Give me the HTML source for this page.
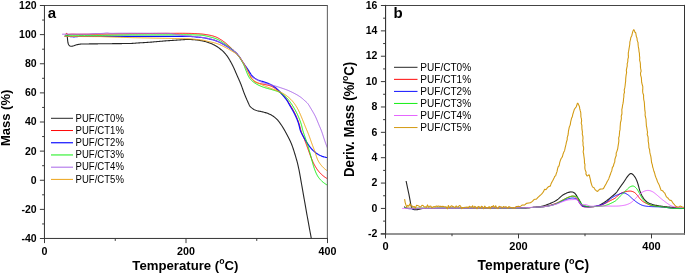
<!DOCTYPE html>
<html lang="en"><head><meta charset="utf-8"><title>TGA and DTG curves</title>
<style>html,body{margin:0;padding:0;background:#fff;}body{width:685px;height:273px;overflow:hidden;}svg{display:block;}text{font-family:'Liberation Sans', Arial, Helvetica, sans-serif;fill:#000;}.tk{font-size:10.5px;font-weight:bold;}.ax{stroke:#222;fill:none;}.c{fill:none;stroke-linejoin:round;stroke-linecap:butt;}</style></head><body>
<svg width="685" height="273" viewBox="0 0 685 273">
<rect x="0" y="0" width="685" height="273" fill="#fff"/>
<g id="plot-a">
<clipPath id="clip-a"><rect x="44.50" y="5.50" width="283.00" height="233.00"/></clipPath>
<g clip-path="url(#clip-a)">
<path class="c" stroke="#262626" stroke-width="1.1" d="M67.00 34.80 L67.13 35.53 L67.24 36.27 L67.32 37.01 L67.40 37.76 L67.47 38.51 L67.53 39.26 L67.60 40.02 L67.68 40.77 L67.78 41.53 L67.90 42.29 L68.07 43.03 L68.28 43.74 L68.56 44.42 L68.95 45.08 L69.47 45.68 L70.09 46.03 L70.81 46.18 L71.58 46.22 L72.34 46.16 L73.07 46.01 L73.79 45.78 L74.50 45.52 L75.21 45.25 L75.92 45.02 L76.64 44.83 L77.37 44.66 L78.11 44.50 L78.85 44.35 L79.59 44.23 L80.34 44.13 L81.09 44.06 L81.84 44.01 L82.58 43.98 L83.33 43.96 L84.08 43.95 L84.83 43.94 L85.58 43.94 L86.33 43.94 L87.08 43.94 L87.83 43.93 L88.58 43.93 L89.33 43.92 L90.08 43.92 L90.83 43.91 L91.58 43.90 L92.33 43.89 L93.08 43.88 L93.83 43.87 L94.58 43.86 L95.33 43.85 L96.08 43.84 L96.83 43.83 L97.58 43.83 L98.33 43.82 L99.08 43.81 L99.83 43.80 L100.58 43.79 L101.33 43.79 L102.08 43.78 L102.83 43.77 L103.58 43.76 L104.33 43.76 L105.08 43.75 L105.83 43.74 L106.58 43.73 L107.33 43.73 L108.08 43.72 L108.83 43.71 L109.58 43.70 L110.33 43.70 L111.08 43.69 L111.83 43.68 L112.58 43.67 L113.33 43.67 L114.08 43.66 L114.83 43.65 L115.58 43.65 L116.33 43.64 L117.08 43.63 L117.83 43.62 L118.58 43.61 L119.33 43.61 L120.08 43.60 L120.83 43.59 L121.58 43.58 L122.33 43.57 L123.08 43.57 L123.83 43.56 L124.58 43.56 L125.33 43.55 L126.08 43.55 L126.83 43.55 L127.58 43.54 L128.33 43.53 L129.08 43.52 L129.83 43.50 L130.58 43.48 L131.33 43.45 L132.08 43.40 L132.83 43.36 L133.58 43.30 L134.32 43.24 L135.07 43.19 L135.82 43.13 L136.57 43.07 L137.32 43.02 L138.07 42.97 L138.81 42.92 L139.56 42.87 L140.31 42.82 L141.06 42.78 L141.81 42.73 L142.56 42.68 L143.30 42.64 L144.05 42.59 L144.80 42.54 L145.55 42.50 L146.30 42.45 L147.05 42.40 L147.80 42.35 L148.54 42.30 L149.29 42.25 L150.04 42.20 L150.79 42.14 L151.54 42.08 L152.28 42.02 L153.03 41.95 L153.78 41.89 L154.52 41.82 L155.27 41.75 L156.02 41.69 L156.77 41.63 L157.51 41.56 L158.26 41.50 L159.01 41.44 L159.76 41.37 L160.50 41.31 L161.25 41.25 L162.00 41.18 L162.74 41.12 L163.49 41.05 L164.24 40.99 L164.99 40.92 L165.73 40.86 L166.48 40.80 L167.23 40.74 L167.98 40.68 L168.72 40.63 L169.47 40.58 L170.22 40.53 L170.97 40.48 L171.72 40.44 L172.47 40.39 L173.22 40.35 L173.96 40.30 L174.71 40.25 L175.46 40.21 L176.21 40.16 L176.96 40.11 L177.71 40.07 L178.46 40.02 L179.20 39.97 L179.95 39.92 L180.70 39.87 L181.45 39.81 L182.20 39.75 L182.94 39.69 L183.69 39.63 L184.44 39.58 L185.19 39.54 L185.94 39.51 L186.69 39.50 L187.44 39.49 L188.19 39.49 L188.94 39.50 L189.69 39.52 L190.44 39.54 L191.19 39.57 L191.94 39.61 L192.69 39.65 L193.44 39.69 L194.19 39.74 L194.93 39.79 L195.68 39.86 L196.43 39.93 L197.17 40.02 L197.92 40.11 L198.66 40.22 L199.40 40.34 L200.14 40.46 L200.88 40.59 L201.62 40.73 L202.36 40.87 L203.09 41.02 L203.82 41.19 L204.55 41.36 L205.28 41.55 L206.00 41.75 L206.72 41.96 L207.44 42.18 L208.15 42.42 L208.86 42.66 L209.57 42.92 L210.27 43.19 L210.96 43.48 L211.65 43.77 L212.34 44.08 L213.01 44.40 L213.69 44.73 L214.36 45.07 L215.02 45.43 L215.67 45.80 L216.31 46.18 L216.95 46.58 L217.57 46.99 L218.19 47.42 L218.80 47.86 L219.41 48.31 L220.00 48.76 L220.59 49.23 L221.17 49.70 L221.74 50.19 L222.31 50.68 L222.87 51.19 L223.41 51.71 L223.94 52.24 L224.45 52.78 L224.96 53.34 L225.45 53.91 L225.92 54.49 L226.39 55.08 L226.84 55.68 L227.27 56.28 L227.70 56.90 L228.12 57.53 L228.52 58.16 L228.92 58.80 L229.31 59.44 L229.69 60.09 L230.06 60.74 L230.43 61.39 L230.80 62.04 L231.16 62.70 L231.52 63.36 L231.87 64.02 L232.21 64.69 L232.55 65.36 L232.89 66.03 L233.22 66.70 L233.55 67.38 L233.87 68.06 L234.18 68.74 L234.49 69.42 L234.79 70.11 L235.09 70.80 L235.38 71.49 L235.67 72.18 L235.96 72.87 L236.25 73.56 L236.55 74.25 L236.85 74.94 L237.16 75.62 L237.46 76.31 L237.77 76.99 L238.08 77.68 L238.38 78.36 L238.69 79.05 L238.99 79.73 L239.30 80.42 L239.60 81.11 L239.89 81.80 L240.18 82.49 L240.47 83.18 L240.75 83.87 L241.02 84.57 L241.29 85.27 L241.55 85.98 L241.81 86.68 L242.06 87.39 L242.31 88.10 L242.56 88.80 L242.81 89.51 L243.06 90.22 L243.31 90.93 L243.57 91.63 L243.83 92.33 L244.10 93.03 L244.37 93.73 L244.65 94.43 L244.93 95.12 L245.21 95.81 L245.50 96.50 L245.79 97.19 L246.08 97.88 L246.38 98.57 L246.67 99.26 L246.98 99.95 L247.28 100.63 L247.59 101.32 L247.89 102.00 L248.20 102.69 L248.51 103.37 L248.83 104.06 L249.14 104.75 L249.47 105.44 L249.84 106.08 L250.29 106.66 L250.81 107.19 L251.39 107.68 L252.00 108.14 L252.62 108.58 L253.24 109.01 L253.88 109.42 L254.53 109.78 L255.20 110.09 L255.89 110.34 L256.60 110.57 L257.31 110.77 L258.04 110.95 L258.78 111.11 L259.52 111.26 L260.27 111.40 L261.02 111.55 L261.76 111.71 L262.49 111.87 L263.23 112.06 L263.96 112.24 L264.69 112.44 L265.42 112.65 L266.14 112.87 L266.86 113.10 L267.57 113.35 L268.27 113.61 L268.96 113.89 L269.64 114.19 L270.31 114.50 L270.97 114.84 L271.63 115.21 L272.27 115.60 L272.91 116.01 L273.54 116.44 L274.15 116.89 L274.75 117.36 L275.33 117.84 L275.89 118.33 L276.44 118.84 L276.96 119.36 L277.47 119.90 L277.97 120.46 L278.45 121.03 L278.92 121.62 L279.38 122.22 L279.83 122.83 L280.27 123.45 L280.70 124.07 L281.13 124.69 L281.54 125.32 L281.95 125.94 L282.36 126.57 L282.75 127.21 L283.14 127.85 L283.53 128.49 L283.91 129.14 L284.29 129.79 L284.66 130.44 L285.03 131.10 L285.39 131.75 L285.75 132.41 L286.11 133.07 L286.47 133.73 L286.83 134.39 L287.18 135.05 L287.53 135.71 L287.88 136.38 L288.23 137.05 L288.58 137.71 L288.92 138.38 L289.25 139.06 L289.58 139.73 L289.91 140.41 L290.22 141.09 L290.53 141.77 L290.84 142.46 L291.13 143.14 L291.41 143.83 L291.69 144.53 L291.96 145.23 L292.22 145.93 L292.48 146.63 L292.73 147.34 L292.98 148.05 L293.22 148.76 L293.45 149.47 L293.68 150.19 L293.91 150.90 L294.14 151.62 L294.36 152.34 L294.58 153.06 L294.80 153.77 L295.02 154.49 L295.23 155.21 L295.45 155.93 L295.67 156.65 L295.88 157.37 L296.09 158.09 L296.30 158.81 L296.51 159.53 L296.71 160.25 L296.91 160.97 L297.11 161.70 L297.30 162.42 L297.49 163.15 L297.67 163.88 L297.85 164.60 L298.02 165.33 L298.18 166.06 L298.34 166.80 L298.50 167.53 L298.66 168.26 L298.81 169.00 L298.96 169.73 L299.11 170.47 L299.25 171.20 L299.39 171.94 L299.53 172.68 L299.67 173.42 L299.81 174.15 L299.94 174.89 L300.08 175.63 L300.21 176.37 L300.35 177.11 L300.48 177.85 L300.61 178.58 L300.73 179.32 L300.86 180.06 L300.99 180.80 L301.12 181.54 L301.25 182.28 L301.38 183.02 L301.51 183.76 L301.64 184.50 L301.76 185.23 L301.89 185.97 L302.02 186.71 L302.15 187.45 L302.28 188.19 L302.41 188.93 L302.54 189.67 L302.67 190.41 L302.80 191.14 L302.93 191.88 L303.06 192.62 L303.19 193.36 L303.32 194.10 L303.45 194.84 L303.58 195.58 L303.71 196.32 L303.84 197.05 L303.97 197.79 L304.10 198.53 L304.23 199.27 L304.36 200.01 L304.49 200.75 L304.62 201.49 L304.75 202.22 L304.88 202.96 L305.01 203.70 L305.14 204.44 L305.27 205.18 L305.40 205.92 L305.53 206.66 L305.66 207.39 L305.79 208.13 L305.92 208.87 L306.05 209.61 L306.18 210.35 L306.31 211.09 L306.44 211.83 L306.57 212.57 L306.70 213.30 L306.83 214.04 L306.96 214.78 L307.09 215.52 L307.23 216.26 L307.36 216.99 L307.50 217.73 L307.63 218.47 L307.77 219.21 L307.90 219.95 L308.04 220.68 L308.18 221.42 L308.31 222.16 L308.45 222.90 L308.58 223.63 L308.72 224.37 L308.85 225.11 L308.99 225.85 L309.12 226.58 L309.25 227.32 L309.39 228.06 L309.52 228.80 L309.66 229.54 L309.79 230.27 L309.93 231.01 L310.06 231.75 L310.20 232.49 L310.34 233.22 L310.47 233.96 L310.61 234.70 L310.75 235.44 L310.89 236.17 L311.02 236.91 L311.15 237.65 L311.28 238.39 L311.41 239.13 L311.53 239.87 L311.65 240.61 L311.76 241.35 L311.87 242.09 L311.98 242.83 L312.00 243.00"/>
<path class="c" stroke="#ff0808" stroke-width="1.0" d="M66.00 34.40 L66.33 33.32 L66.68 33.27 L67.09 33.98 L67.65 34.34 L68.37 34.43 L69.17 34.39 L69.99 34.30 L70.76 34.23 L71.53 34.19 L72.29 34.18 L73.03 34.19 L73.77 34.20 L74.51 34.23 L75.25 34.26 L75.99 34.28 L76.73 34.30 L77.47 34.30 L78.22 34.30 L78.97 34.30 L79.73 34.29 L80.48 34.28 L81.23 34.27 L81.99 34.26 L82.74 34.25 L83.49 34.25 L84.24 34.24 L84.99 34.24 L85.74 34.24 L86.49 34.24 L87.24 34.24 L87.99 34.24 L88.74 34.24 L89.48 34.24 L90.23 34.23 L90.98 34.23 L91.74 34.23 L92.49 34.23 L93.24 34.22 L93.99 34.22 L94.74 34.22 L95.49 34.22 L96.24 34.22 L96.99 34.21 L97.74 34.21 L98.49 34.21 L99.24 34.21 L99.99 34.20 L100.74 34.19 L101.49 34.18 L102.24 34.17 L102.99 34.16 L103.74 34.14 L104.49 34.13 L105.23 34.11 L105.98 34.10 L106.73 34.09 L107.48 34.07 L108.23 34.06 L108.98 34.05 L109.73 34.04 L110.48 34.02 L111.23 34.01 L111.98 34.00 L112.73 33.99 L113.48 33.98 L114.23 33.96 L114.98 33.95 L115.73 33.94 L116.48 33.93 L117.23 33.91 L117.98 33.90 L118.73 33.89 L119.48 33.88 L120.23 33.86 L120.98 33.85 L121.73 33.84 L122.48 33.83 L123.23 33.81 L123.98 33.80 L124.73 33.79 L125.48 33.77 L126.23 33.76 L126.98 33.75 L127.73 33.73 L128.48 33.72 L129.23 33.71 L129.98 33.70 L130.73 33.69 L131.48 33.68 L132.23 33.67 L132.98 33.67 L133.73 33.66 L134.48 33.65 L135.23 33.65 L135.98 33.64 L136.73 33.63 L137.48 33.63 L138.23 33.62 L138.98 33.61 L139.73 33.60 L140.48 33.60 L141.23 33.59 L141.98 33.58 L142.73 33.57 L143.48 33.57 L144.23 33.56 L144.98 33.55 L145.73 33.54 L146.48 33.54 L147.23 33.53 L147.98 33.52 L148.73 33.51 L149.48 33.51 L150.23 33.50 L150.98 33.49 L151.73 33.48 L152.48 33.48 L153.23 33.47 L153.98 33.46 L154.73 33.45 L155.48 33.44 L156.23 33.44 L156.98 33.43 L157.73 33.42 L158.48 33.41 L159.23 33.41 L159.98 33.40 L160.73 33.40 L161.48 33.39 L162.23 33.39 L162.98 33.38 L163.73 33.38 L164.48 33.38 L165.23 33.37 L165.98 33.37 L166.73 33.37 L167.48 33.36 L168.23 33.36 L168.98 33.36 L169.73 33.35 L170.48 33.35 L171.23 33.34 L171.98 33.34 L172.73 33.34 L173.48 33.33 L174.23 33.33 L174.98 33.32 L175.73 33.32 L176.48 33.31 L177.23 33.31 L177.98 33.31 L178.73 33.30 L179.48 33.30 L180.23 33.30 L180.98 33.30 L181.73 33.30 L182.48 33.30 L183.23 33.31 L183.98 33.31 L184.73 33.32 L185.48 33.33 L186.23 33.34 L186.98 33.35 L187.73 33.36 L188.48 33.37 L189.23 33.38 L189.98 33.40 L190.73 33.42 L191.48 33.44 L192.23 33.46 L192.98 33.49 L193.73 33.52 L194.48 33.55 L195.23 33.58 L195.98 33.62 L196.72 33.66 L197.47 33.70 L198.22 33.75 L198.97 33.80 L199.72 33.85 L200.47 33.91 L201.21 33.97 L201.96 34.04 L202.71 34.12 L203.45 34.21 L204.20 34.30 L204.94 34.40 L205.68 34.51 L206.42 34.62 L207.16 34.74 L207.90 34.87 L208.64 35.01 L209.38 35.15 L210.12 35.30 L210.85 35.46 L211.59 35.63 L212.32 35.82 L213.04 36.02 L213.76 36.23 L214.48 36.46 L215.18 36.71 L215.88 36.97 L216.56 37.26 L217.24 37.58 L217.91 37.92 L218.57 38.29 L219.22 38.66 L219.87 39.05 L220.51 39.44 L221.15 39.84 L221.77 40.25 L222.40 40.67 L223.02 41.10 L223.63 41.54 L224.23 41.98 L224.83 42.44 L225.42 42.90 L226.00 43.36 L226.58 43.84 L227.15 44.32 L227.72 44.81 L228.28 45.31 L228.83 45.82 L229.38 46.33 L229.93 46.84 L230.48 47.36 L231.02 47.88 L231.56 48.40 L232.10 48.93 L232.64 49.45 L233.17 49.98 L233.71 50.50 L234.25 51.02 L234.79 51.55 L235.32 52.08 L235.84 52.62 L236.36 53.16 L236.86 53.72 L237.34 54.29 L237.82 54.86 L238.28 55.45 L238.73 56.04 L239.18 56.64 L239.62 57.25 L240.05 57.86 L240.48 58.48 L240.90 59.11 L241.31 59.73 L241.72 60.37 L242.13 61.00 L242.53 61.63 L242.94 62.27 L243.34 62.91 L243.74 63.54 L244.14 64.18 L244.54 64.82 L244.94 65.45 L245.33 66.09 L245.72 66.74 L246.10 67.38 L246.48 68.03 L246.85 68.69 L247.20 69.34 L247.55 70.01 L247.89 70.68 L248.20 71.36 L248.51 72.05 L248.80 72.74 L249.09 73.44 L249.37 74.14 L249.67 74.84 L249.97 75.53 L250.29 76.21 L250.63 76.87 L251.00 77.52 L251.39 78.14 L251.83 78.76 L252.30 79.37 L252.80 79.96 L253.33 80.52 L253.89 81.04 L254.47 81.50 L255.08 81.89 L255.71 82.22 L256.37 82.51 L257.06 82.77 L257.77 83.00 L258.50 83.21 L259.25 83.39 L260.00 83.56 L260.76 83.72 L261.51 83.87 L262.26 84.03 L263.00 84.18 L263.75 84.34 L264.49 84.48 L265.24 84.63 L265.99 84.78 L266.73 84.93 L267.46 85.10 L268.19 85.27 L268.92 85.46 L269.63 85.67 L270.33 85.90 L271.03 86.15 L271.70 86.43 L272.37 86.75 L273.02 87.11 L273.67 87.50 L274.30 87.91 L274.93 88.35 L275.54 88.79 L276.15 89.24 L276.75 89.69 L277.34 90.15 L277.93 90.62 L278.50 91.11 L279.07 91.60 L279.63 92.09 L280.19 92.59 L280.75 93.10 L281.30 93.60 L281.86 94.12 L282.40 94.63 L282.94 95.16 L283.47 95.69 L283.99 96.23 L284.50 96.79 L284.99 97.35 L285.46 97.92 L285.93 98.51 L286.38 99.11 L286.81 99.71 L287.24 100.33 L287.66 100.95 L288.08 101.58 L288.48 102.22 L288.89 102.85 L289.28 103.49 L289.68 104.13 L290.07 104.77 L290.47 105.41 L290.86 106.05 L291.24 106.69 L291.63 107.34 L292.00 107.99 L292.38 108.64 L292.75 109.29 L293.11 109.95 L293.47 110.61 L293.82 111.27 L294.17 111.94 L294.50 112.60 L294.83 113.28 L295.16 113.95 L295.48 114.63 L295.79 115.31 L296.10 115.99 L296.41 116.68 L296.70 117.37 L297.00 118.07 L297.28 118.76 L297.56 119.46 L297.83 120.16 L298.10 120.87 L298.35 121.57 L298.60 122.28 L298.84 122.99 L299.07 123.71 L299.30 124.42 L299.51 125.14 L299.71 125.86 L299.90 126.59 L300.09 127.32 L300.27 128.04 L300.45 128.77 L300.65 129.49 L300.86 130.21 L301.09 130.92 L301.33 131.63 L301.58 132.34 L301.85 133.04 L302.12 133.74 L302.39 134.43 L302.67 135.13 L302.96 135.82 L303.25 136.52 L303.54 137.21 L303.83 137.91 L304.12 138.60 L304.41 139.29 L304.69 139.99 L304.96 140.69 L305.23 141.39 L305.50 142.09 L305.75 142.80 L306.01 143.50 L306.26 144.21 L306.51 144.91 L306.77 145.62 L307.02 146.33 L307.27 147.03 L307.53 147.74 L307.79 148.44 L308.04 149.15 L308.30 149.85 L308.55 150.56 L308.81 151.26 L309.06 151.97 L309.32 152.67 L309.57 153.38 L309.83 154.08 L310.08 154.79 L310.34 155.49 L310.61 156.19 L310.87 156.90 L311.14 157.60 L311.41 158.30 L311.68 159.00 L311.97 159.69 L312.26 160.38 L312.56 161.07 L312.87 161.75 L313.18 162.43 L313.51 163.11 L313.84 163.79 L314.18 164.46 L314.53 165.12 L314.90 165.77 L315.27 166.42 L315.66 167.06 L316.06 167.70 L316.47 168.33 L316.89 168.96 L317.32 169.58 L317.77 170.19 L318.23 170.79 L318.70 171.38 L319.18 171.96 L319.67 172.52 L320.17 173.06 L320.69 173.60 L321.21 174.12 L321.76 174.63 L322.31 175.13 L322.88 175.61 L323.46 176.09 L324.06 176.55 L324.67 177.00 L325.29 177.43 L325.92 177.85 L326.57 178.25 L327.22 178.64 L327.50 178.80"/>
<path class="c" stroke="#1010ff" stroke-width="1.2" d="M64.50 36.20 L65.25 36.19 L66.00 36.21 L66.75 36.24 L67.50 36.29 L68.25 36.34 L68.99 36.41 L69.74 36.48 L70.49 36.55 L71.24 36.63 L71.99 36.70 L72.73 36.76 L73.48 36.79 L74.23 36.80 L74.98 36.76 L75.73 36.69 L76.47 36.62 L77.22 36.55 L77.97 36.50 L78.72 36.48 L79.47 36.46 L80.22 36.46 L80.97 36.46 L81.72 36.46 L82.47 36.47 L83.22 36.47 L83.97 36.48 L84.72 36.48 L85.47 36.47 L86.22 36.47 L86.97 36.46 L87.72 36.46 L88.47 36.45 L89.22 36.45 L89.97 36.44 L90.72 36.44 L91.47 36.44 L92.22 36.43 L92.97 36.43 L93.72 36.43 L94.47 36.43 L95.22 36.42 L95.97 36.42 L96.72 36.42 L97.47 36.41 L98.22 36.41 L98.97 36.40 L99.72 36.40 L100.47 36.40 L101.22 36.40 L101.97 36.39 L102.72 36.39 L103.47 36.39 L104.22 36.39 L104.97 36.38 L105.72 36.38 L106.47 36.38 L107.22 36.38 L107.97 36.37 L108.72 36.37 L109.47 36.37 L110.22 36.37 L110.97 36.36 L111.72 36.36 L112.47 36.36 L113.22 36.36 L113.97 36.35 L114.72 36.35 L115.47 36.35 L116.22 36.35 L116.97 36.34 L117.72 36.34 L118.47 36.34 L119.22 36.34 L119.97 36.33 L120.72 36.33 L121.47 36.33 L122.22 36.33 L122.97 36.32 L123.72 36.32 L124.47 36.32 L125.22 36.32 L125.97 36.31 L126.72 36.31 L127.47 36.31 L128.22 36.30 L128.97 36.30 L129.72 36.30 L130.47 36.30 L131.22 36.30 L131.97 36.30 L132.72 36.30 L133.47 36.30 L134.22 36.30 L134.97 36.30 L135.72 36.30 L136.47 36.30 L137.22 36.30 L137.97 36.30 L138.72 36.30 L139.47 36.30 L140.22 36.30 L140.97 36.30 L141.72 36.30 L142.47 36.30 L143.22 36.30 L143.97 36.30 L144.72 36.30 L145.47 36.30 L146.22 36.30 L146.97 36.30 L147.72 36.30 L148.47 36.30 L149.22 36.30 L149.97 36.30 L150.72 36.30 L151.47 36.30 L152.22 36.30 L152.97 36.30 L153.72 36.30 L154.47 36.30 L155.22 36.30 L155.97 36.30 L156.72 36.30 L157.47 36.30 L158.22 36.30 L158.97 36.30 L159.72 36.30 L160.47 36.30 L161.22 36.30 L161.97 36.30 L162.72 36.30 L163.47 36.30 L164.22 36.30 L164.97 36.30 L165.72 36.30 L166.47 36.30 L167.22 36.30 L167.97 36.30 L168.72 36.30 L169.47 36.30 L170.22 36.30 L170.97 36.30 L171.72 36.30 L172.47 36.30 L173.22 36.30 L173.97 36.30 L174.72 36.30 L175.47 36.30 L176.22 36.30 L176.97 36.30 L177.72 36.30 L178.47 36.30 L179.22 36.30 L179.97 36.30 L180.72 36.30 L181.47 36.29 L182.22 36.29 L182.97 36.29 L183.72 36.29 L184.47 36.29 L185.22 36.29 L185.97 36.30 L186.72 36.31 L187.47 36.32 L188.22 36.34 L188.97 36.36 L189.72 36.39 L190.47 36.42 L191.21 36.47 L191.96 36.53 L192.71 36.60 L193.45 36.68 L194.20 36.76 L194.94 36.85 L195.69 36.94 L196.44 37.03 L197.18 37.12 L197.93 37.20 L198.67 37.27 L199.42 37.34 L200.17 37.39 L200.92 37.45 L201.67 37.51 L202.41 37.59 L203.15 37.69 L203.89 37.80 L204.63 37.93 L205.37 38.08 L206.10 38.23 L206.84 38.40 L207.57 38.56 L208.30 38.73 L209.03 38.90 L209.77 39.07 L210.50 39.24 L211.23 39.42 L211.96 39.60 L212.69 39.79 L213.41 39.99 L214.13 40.20 L214.85 40.42 L215.55 40.65 L216.26 40.90 L216.95 41.16 L217.64 41.44 L218.33 41.74 L219.02 42.05 L219.69 42.37 L220.37 42.70 L221.04 43.04 L221.71 43.39 L222.37 43.75 L223.04 44.12 L223.69 44.49 L224.35 44.86 L225.00 45.23 L225.65 45.61 L226.29 45.99 L226.94 46.37 L227.58 46.76 L228.22 47.16 L228.86 47.56 L229.49 47.97 L230.11 48.38 L230.74 48.80 L231.35 49.23 L231.97 49.66 L232.57 50.10 L233.17 50.55 L233.76 51.01 L234.35 51.48 L234.94 51.96 L235.51 52.45 L236.06 52.96 L236.60 53.48 L237.11 54.02 L237.61 54.57 L238.09 55.14 L238.55 55.72 L239.00 56.31 L239.43 56.92 L239.86 57.54 L240.28 58.16 L240.69 58.79 L241.10 59.43 L241.50 60.07 L241.91 60.71 L242.31 61.35 L242.71 61.99 L243.12 62.62 L243.53 63.25 L243.95 63.88 L244.38 64.50 L244.80 65.11 L245.23 65.73 L245.66 66.34 L246.10 66.95 L246.53 67.57 L246.96 68.18 L247.38 68.80 L247.81 69.42 L248.23 70.04 L248.64 70.67 L249.05 71.31 L249.45 71.96 L249.85 72.60 L250.26 73.24 L250.67 73.88 L251.10 74.49 L251.55 75.09 L252.01 75.66 L252.51 76.21 L253.03 76.72 L253.59 77.22 L254.17 77.70 L254.78 78.15 L255.41 78.58 L256.06 78.99 L256.72 79.36 L257.39 79.70 L258.06 80.01 L258.75 80.28 L259.45 80.54 L260.16 80.77 L260.88 80.99 L261.60 81.21 L262.33 81.41 L263.06 81.62 L263.78 81.84 L264.50 82.06 L265.21 82.30 L265.92 82.56 L266.62 82.82 L267.32 83.09 L268.02 83.38 L268.71 83.67 L269.40 83.98 L270.08 84.30 L270.76 84.63 L271.42 84.98 L272.08 85.34 L272.72 85.71 L273.36 86.11 L273.98 86.52 L274.60 86.95 L275.21 87.40 L275.80 87.86 L276.39 88.34 L276.96 88.83 L277.51 89.33 L278.06 89.84 L278.58 90.37 L279.10 90.91 L279.61 91.46 L280.10 92.02 L280.60 92.59 L281.08 93.17 L281.57 93.75 L282.05 94.32 L282.53 94.90 L283.02 95.47 L283.51 96.04 L284.00 96.62 L284.48 97.19 L284.96 97.77 L285.43 98.35 L285.90 98.95 L286.34 99.55 L286.77 100.16 L287.18 100.78 L287.57 101.42 L287.94 102.07 L288.30 102.73 L288.66 103.39 L289.03 104.05 L289.40 104.70 L289.77 105.35 L290.15 106.00 L290.53 106.65 L290.91 107.30 L291.29 107.94 L291.67 108.59 L292.05 109.24 L292.42 109.89 L292.79 110.54 L293.15 111.20 L293.51 111.85 L293.86 112.52 L294.20 113.18 L294.53 113.85 L294.87 114.53 L295.19 115.20 L295.52 115.88 L295.83 116.57 L296.14 117.25 L296.45 117.94 L296.74 118.64 L297.03 119.33 L297.31 120.03 L297.58 120.73 L297.84 121.44 L298.09 122.15 L298.33 122.86 L298.56 123.57 L298.77 124.29 L298.98 125.01 L299.16 125.74 L299.33 126.47 L299.49 127.20 L299.66 127.94 L299.83 128.67 L300.02 129.39 L300.23 130.10 L300.48 130.81 L300.75 131.50 L301.05 132.18 L301.37 132.86 L301.70 133.54 L302.05 134.21 L302.41 134.87 L302.78 135.53 L303.15 136.19 L303.53 136.84 L303.90 137.50 L304.27 138.15 L304.64 138.81 L305.02 139.46 L305.39 140.11 L305.78 140.76 L306.16 141.40 L306.55 142.04 L306.95 142.68 L307.36 143.31 L307.77 143.94 L308.19 144.56 L308.62 145.17 L309.05 145.77 L309.50 146.37 L309.96 146.97 L310.43 147.55 L310.92 148.14 L311.41 148.71 L311.92 149.27 L312.44 149.81 L312.97 150.34 L313.51 150.86 L314.06 151.35 L314.63 151.84 L315.21 152.31 L315.81 152.78 L316.42 153.23 L317.05 153.66 L317.68 154.08 L318.32 154.47 L318.98 154.85 L319.64 155.19 L320.31 155.51 L320.99 155.80 L321.68 156.08 L322.38 156.34 L323.09 156.58 L323.80 156.81 L324.53 157.01 L325.26 157.20 L326.01 157.36 L326.76 157.49 L327.50 157.60"/>
<path class="c" stroke="#14ee14" stroke-width="1.0" d="M65.00 35.30 L65.75 35.30 L66.50 35.30 L67.25 35.31 L68.00 35.31 L68.75 35.31 L69.50 35.31 L70.25 35.31 L71.00 35.32 L71.75 35.32 L72.50 35.32 L73.25 35.32 L74.00 35.33 L74.75 35.33 L75.50 35.33 L76.25 35.33 L77.00 35.33 L77.75 35.34 L78.50 35.34 L79.25 35.34 L80.00 35.34 L80.75 35.34 L81.50 35.35 L82.25 35.35 L83.00 35.35 L83.75 35.35 L84.50 35.36 L85.25 35.36 L86.00 35.36 L86.75 35.36 L87.50 35.36 L88.25 35.37 L89.00 35.37 L89.75 35.37 L90.50 35.37 L91.25 35.37 L92.00 35.38 L92.75 35.38 L93.50 35.38 L94.25 35.38 L95.00 35.39 L95.75 35.39 L96.50 35.39 L97.25 35.40 L98.00 35.40 L98.75 35.40 L99.50 35.40 L100.25 35.40 L101.00 35.39 L101.75 35.38 L102.50 35.37 L103.25 35.36 L104.00 35.34 L104.75 35.32 L105.50 35.31 L106.25 35.30 L107.00 35.28 L107.75 35.27 L108.50 35.26 L109.25 35.24 L110.00 35.23 L110.75 35.22 L111.50 35.21 L112.25 35.20 L113.00 35.18 L113.75 35.17 L114.50 35.16 L115.25 35.15 L116.00 35.13 L116.75 35.12 L117.50 35.11 L118.25 35.10 L119.00 35.08 L119.75 35.07 L120.50 35.06 L121.25 35.05 L122.00 35.03 L122.75 35.02 L123.50 35.01 L124.25 35.00 L125.00 34.98 L125.75 34.97 L126.50 34.95 L127.25 34.94 L128.00 34.92 L128.75 34.91 L129.50 34.90 L130.25 34.90 L131.00 34.89 L131.75 34.89 L132.50 34.89 L133.25 34.89 L134.00 34.89 L134.75 34.89 L135.50 34.89 L136.25 34.89 L137.00 34.89 L137.75 34.89 L138.50 34.88 L139.25 34.88 L140.00 34.88 L140.75 34.88 L141.50 34.88 L142.25 34.88 L143.00 34.87 L143.75 34.87 L144.50 34.87 L145.25 34.87 L146.00 34.87 L146.75 34.87 L147.50 34.86 L148.25 34.86 L149.00 34.86 L149.75 34.86 L150.50 34.86 L151.25 34.86 L152.00 34.86 L152.75 34.85 L153.50 34.85 L154.25 34.85 L155.00 34.85 L155.75 34.85 L156.50 34.85 L157.25 34.85 L158.00 34.84 L158.75 34.84 L159.50 34.84 L160.25 34.84 L161.00 34.84 L161.75 34.84 L162.50 34.84 L163.25 34.83 L164.00 34.83 L164.75 34.83 L165.50 34.83 L166.25 34.83 L167.00 34.83 L167.75 34.82 L168.50 34.82 L169.25 34.82 L170.00 34.82 L170.75 34.82 L171.50 34.82 L172.25 34.82 L173.00 34.81 L173.75 34.81 L174.50 34.81 L175.25 34.81 L176.00 34.81 L176.75 34.81 L177.50 34.81 L178.25 34.80 L179.00 34.80 L179.75 34.80 L180.50 34.80 L181.25 34.80 L182.00 34.79 L182.75 34.79 L183.50 34.79 L184.25 34.79 L185.00 34.78 L185.75 34.78 L186.50 34.78 L187.25 34.78 L188.00 34.79 L188.75 34.79 L189.50 34.80 L190.25 34.80 L190.99 34.81 L191.74 34.83 L192.49 34.85 L193.24 34.87 L193.99 34.90 L194.74 34.93 L195.49 34.96 L196.24 34.99 L196.99 35.02 L197.74 35.05 L198.49 35.08 L199.24 35.11 L199.99 35.14 L200.74 35.17 L201.49 35.22 L202.24 35.28 L202.98 35.35 L203.72 35.46 L204.45 35.60 L205.19 35.75 L205.92 35.93 L206.65 36.11 L207.38 36.29 L208.11 36.48 L208.84 36.66 L209.57 36.84 L210.31 37.02 L211.04 37.20 L211.77 37.39 L212.50 37.58 L213.22 37.78 L213.94 38.00 L214.65 38.23 L215.35 38.47 L216.04 38.73 L216.73 39.02 L217.40 39.32 L218.08 39.65 L218.74 39.99 L219.40 40.35 L220.05 40.72 L220.70 41.11 L221.35 41.50 L221.99 41.91 L222.62 42.32 L223.25 42.74 L223.88 43.17 L224.50 43.60 L225.12 44.03 L225.74 44.46 L226.35 44.89 L226.96 45.32 L227.57 45.77 L228.17 46.21 L228.77 46.67 L229.37 47.12 L229.96 47.59 L230.55 48.05 L231.13 48.53 L231.71 49.01 L232.28 49.49 L232.84 49.98 L233.40 50.48 L233.96 50.99 L234.51 51.50 L235.05 52.02 L235.59 52.55 L236.11 53.09 L236.62 53.64 L237.10 54.21 L237.58 54.78 L238.04 55.36 L238.50 55.96 L238.95 56.56 L239.38 57.18 L239.81 57.80 L240.23 58.43 L240.64 59.07 L241.03 59.71 L241.42 60.36 L241.80 61.01 L242.16 61.67 L242.52 62.33 L242.86 63.00 L243.20 63.67 L243.52 64.34 L243.83 65.02 L244.12 65.71 L244.41 66.40 L244.68 67.10 L244.95 67.80 L245.22 68.51 L245.49 69.21 L245.76 69.91 L246.04 70.61 L246.33 71.31 L246.61 72.01 L246.90 72.72 L247.19 73.43 L247.49 74.13 L247.80 74.82 L248.12 75.51 L248.46 76.18 L248.82 76.84 L249.20 77.48 L249.59 78.10 L250.02 78.69 L250.47 79.26 L250.96 79.81 L251.49 80.35 L252.04 80.87 L252.61 81.37 L253.21 81.85 L253.82 82.31 L254.43 82.75 L255.06 83.17 L255.68 83.57 L256.32 83.96 L256.98 84.33 L257.64 84.69 L258.31 85.04 L258.98 85.37 L259.67 85.69 L260.36 86.00 L261.05 86.29 L261.75 86.57 L262.45 86.84 L263.15 87.10 L263.85 87.34 L264.56 87.57 L265.28 87.79 L266.00 88.00 L266.72 88.21 L267.44 88.41 L268.17 88.60 L268.90 88.80 L269.62 89.00 L270.35 89.20 L271.07 89.40 L271.79 89.61 L272.52 89.82 L273.25 90.03 L273.98 90.25 L274.70 90.46 L275.43 90.69 L276.15 90.92 L276.86 91.17 L277.56 91.43 L278.26 91.70 L278.94 91.99 L279.61 92.30 L280.27 92.64 L280.91 93.00 L281.54 93.39 L282.16 93.81 L282.77 94.25 L283.37 94.72 L283.96 95.20 L284.53 95.70 L285.09 96.22 L285.64 96.74 L286.18 97.27 L286.70 97.80 L287.20 98.35 L287.70 98.91 L288.18 99.49 L288.66 100.07 L289.12 100.66 L289.58 101.26 L290.02 101.87 L290.46 102.48 L290.89 103.10 L291.31 103.72 L291.73 104.34 L292.14 104.97 L292.54 105.60 L292.94 106.23 L293.34 106.87 L293.73 107.52 L294.11 108.17 L294.48 108.82 L294.85 109.47 L295.22 110.13 L295.57 110.79 L295.92 111.46 L296.26 112.12 L296.60 112.79 L296.93 113.47 L297.25 114.14 L297.57 114.82 L297.89 115.50 L298.20 116.19 L298.50 116.88 L298.80 117.57 L299.10 118.26 L299.38 118.96 L299.66 119.66 L299.93 120.36 L300.19 121.06 L300.45 121.77 L300.69 122.48 L300.93 123.19 L301.15 123.91 L301.36 124.62 L301.57 125.34 L301.75 126.07 L301.93 126.80 L302.10 127.53 L302.27 128.26 L302.44 128.99 L302.63 129.72 L302.82 130.44 L303.03 131.16 L303.25 131.88 L303.47 132.59 L303.71 133.30 L303.95 134.01 L304.19 134.72 L304.44 135.43 L304.69 136.14 L304.94 136.85 L305.20 137.55 L305.45 138.26 L305.70 138.97 L305.95 139.68 L306.19 140.39 L306.43 141.10 L306.67 141.81 L306.90 142.52 L307.12 143.24 L307.35 143.95 L307.57 144.67 L307.79 145.39 L308.00 146.11 L308.22 146.83 L308.43 147.55 L308.64 148.27 L308.84 148.99 L309.05 149.71 L309.25 150.43 L309.45 151.15 L309.65 151.88 L309.85 152.60 L310.04 153.32 L310.24 154.05 L310.43 154.77 L310.62 155.50 L310.81 156.23 L311.00 156.95 L311.19 157.68 L311.37 158.40 L311.57 159.13 L311.76 159.85 L311.96 160.58 L312.16 161.30 L312.35 162.02 L312.56 162.75 L312.76 163.47 L312.97 164.19 L313.18 164.91 L313.40 165.63 L313.62 166.34 L313.85 167.06 L314.09 167.77 L314.33 168.48 L314.58 169.19 L314.84 169.91 L315.10 170.62 L315.37 171.32 L315.66 172.03 L315.95 172.72 L316.26 173.41 L316.58 174.09 L316.92 174.75 L317.27 175.41 L317.64 176.05 L318.04 176.67 L318.45 177.29 L318.89 177.89 L319.36 178.49 L319.85 179.07 L320.35 179.63 L320.87 180.19 L321.41 180.73 L321.95 181.25 L322.51 181.75 L323.08 182.23 L323.66 182.70 L324.25 183.15 L324.87 183.59 L325.49 184.01 L326.13 184.41 L326.78 184.80 L327.44 185.17 L327.50 185.20"/>
<path class="c" stroke="#a866e8" stroke-width="1.0" d="M62.20 34.20 L62.95 34.20 L63.70 34.19 L64.45 34.19 L65.20 34.19 L65.95 34.18 L66.70 34.18 L67.45 34.18 L68.20 34.18 L68.95 34.17 L69.70 34.17 L70.45 34.17 L71.20 34.17 L71.95 34.16 L72.70 34.16 L73.45 34.16 L74.20 34.15 L74.95 34.15 L75.70 34.15 L76.45 34.14 L77.20 34.14 L77.95 34.13 L78.70 34.13 L79.45 34.13 L80.20 34.12 L80.95 34.12 L81.70 34.13 L82.45 34.13 L83.20 34.13 L83.95 34.14 L84.70 34.14 L85.45 34.14 L86.20 34.13 L86.95 34.12 L87.70 34.11 L88.45 34.08 L89.20 34.03 L89.94 33.97 L90.69 33.89 L91.44 33.81 L92.18 33.74 L92.93 33.67 L93.68 33.62 L94.43 33.58 L95.18 33.56 L95.93 33.54 L96.68 33.53 L97.43 33.53 L98.18 33.52 L98.93 33.51 L99.68 33.51 L100.43 33.49 L101.18 33.47 L101.93 33.44 L102.68 33.40 L103.42 33.35 L104.17 33.28 L104.92 33.19 L105.67 33.09 L106.41 33.02 L107.16 33.00 L107.90 33.06 L108.65 33.15 L109.40 33.25 L110.14 33.31 L110.89 33.34 L111.64 33.35 L112.39 33.35 L113.14 33.35 L113.89 33.33 L114.64 33.32 L115.39 33.30 L116.14 33.28 L116.89 33.26 L117.64 33.25 L118.39 33.24 L119.14 33.24 L119.89 33.24 L120.64 33.23 L121.39 33.23 L122.14 33.23 L122.89 33.23 L123.64 33.23 L124.39 33.23 L125.14 33.23 L125.89 33.22 L126.64 33.22 L127.39 33.21 L128.14 33.21 L128.89 33.20 L129.64 33.20 L130.39 33.20 L131.14 33.20 L131.89 33.20 L132.64 33.20 L133.39 33.21 L134.14 33.21 L134.89 33.21 L135.64 33.21 L136.39 33.22 L137.14 33.22 L137.89 33.22 L138.64 33.22 L139.39 33.23 L140.14 33.23 L140.89 33.23 L141.64 33.23 L142.39 33.23 L143.14 33.23 L143.89 33.24 L144.64 33.24 L145.39 33.24 L146.14 33.24 L146.89 33.24 L147.64 33.25 L148.39 33.25 L149.14 33.25 L149.89 33.25 L150.64 33.25 L151.39 33.25 L152.14 33.26 L152.89 33.26 L153.64 33.26 L154.39 33.26 L155.14 33.27 L155.89 33.27 L156.64 33.27 L157.39 33.28 L158.14 33.28 L158.89 33.28 L159.64 33.29 L160.39 33.29 L161.14 33.29 L161.89 33.28 L162.64 33.28 L163.39 33.27 L164.15 33.27 L164.90 33.27 L165.65 33.27 L166.40 33.27 L167.15 33.28 L167.89 33.30 L168.64 33.33 L169.39 33.38 L170.13 33.46 L170.88 33.55 L171.62 33.65 L172.36 33.76 L173.11 33.88 L173.85 34.01 L174.59 34.13 L175.33 34.26 L176.07 34.39 L176.81 34.52 L177.55 34.66 L178.28 34.80 L179.02 34.95 L179.76 35.09 L180.50 35.22 L181.24 35.34 L181.98 35.46 L182.72 35.56 L183.46 35.65 L184.20 35.73 L184.95 35.81 L185.70 35.87 L186.45 35.93 L187.19 35.99 L187.94 36.05 L188.69 36.10 L189.44 36.16 L190.19 36.21 L190.94 36.27 L191.68 36.33 L192.43 36.39 L193.18 36.45 L193.93 36.51 L194.67 36.58 L195.42 36.64 L196.17 36.71 L196.91 36.78 L197.66 36.86 L198.41 36.94 L199.15 37.02 L199.90 37.10 L200.64 37.19 L201.39 37.29 L202.13 37.38 L202.88 37.49 L203.62 37.60 L204.36 37.71 L205.10 37.83 L205.84 37.96 L206.58 38.09 L207.32 38.23 L208.05 38.38 L208.78 38.54 L209.51 38.71 L210.24 38.89 L210.96 39.09 L211.69 39.29 L212.41 39.51 L213.13 39.74 L213.84 39.98 L214.55 40.22 L215.26 40.48 L215.96 40.75 L216.65 41.02 L217.34 41.30 L218.03 41.60 L218.71 41.91 L219.38 42.23 L220.06 42.56 L220.73 42.90 L221.39 43.25 L222.06 43.61 L222.72 43.97 L223.38 44.33 L224.04 44.70 L224.69 45.07 L225.34 45.44 L225.99 45.81 L226.65 46.18 L227.30 46.56 L227.94 46.94 L228.59 47.33 L229.23 47.72 L229.87 48.12 L230.50 48.53 L231.12 48.95 L231.74 49.37 L232.34 49.81 L232.94 50.26 L233.53 50.72 L234.12 51.19 L234.69 51.68 L235.26 52.18 L235.81 52.69 L236.35 53.22 L236.87 53.75 L237.37 54.30 L237.86 54.86 L238.35 55.43 L238.82 56.01 L239.28 56.60 L239.73 57.20 L240.17 57.81 L240.61 58.43 L241.03 59.06 L241.45 59.69 L241.85 60.33 L242.25 60.97 L242.64 61.61 L243.03 62.26 L243.40 62.91 L243.77 63.56 L244.13 64.22 L244.47 64.88 L244.81 65.55 L245.14 66.22 L245.46 66.90 L245.78 67.58 L246.11 68.26 L246.44 68.93 L246.79 69.60 L247.14 70.26 L247.50 70.93 L247.87 71.60 L248.25 72.27 L248.65 72.93 L249.05 73.57 L249.48 74.20 L249.93 74.80 L250.40 75.37 L250.90 75.91 L251.42 76.41 L251.99 76.87 L252.60 77.31 L253.24 77.71 L253.89 78.11 L254.55 78.49 L255.21 78.86 L255.86 79.24 L256.51 79.61 L257.17 79.98 L257.83 80.35 L258.49 80.71 L259.16 81.06 L259.83 81.40 L260.51 81.72 L261.19 82.03 L261.87 82.32 L262.57 82.59 L263.26 82.84 L263.97 83.07 L264.68 83.29 L265.40 83.49 L266.13 83.69 L266.85 83.87 L267.59 84.05 L268.32 84.23 L269.05 84.40 L269.79 84.57 L270.52 84.75 L271.25 84.92 L271.98 85.11 L272.71 85.30 L273.43 85.50 L274.15 85.71 L274.87 85.92 L275.59 86.13 L276.31 86.35 L277.03 86.58 L277.74 86.80 L278.45 87.03 L279.17 87.26 L279.88 87.49 L280.59 87.73 L281.31 87.96 L282.02 88.20 L282.73 88.44 L283.44 88.68 L284.15 88.93 L284.86 89.18 L285.56 89.43 L286.27 89.70 L286.96 89.97 L287.66 90.24 L288.35 90.53 L289.04 90.82 L289.73 91.13 L290.41 91.44 L291.09 91.75 L291.77 92.08 L292.44 92.41 L293.11 92.75 L293.78 93.09 L294.44 93.44 L295.11 93.79 L295.76 94.15 L296.42 94.52 L297.07 94.89 L297.72 95.28 L298.37 95.67 L299.00 96.07 L299.63 96.48 L300.25 96.90 L300.86 97.34 L301.46 97.79 L302.04 98.26 L302.61 98.74 L303.17 99.25 L303.72 99.75 L304.28 100.25 L304.85 100.75 L305.42 101.24 L305.99 101.74 L306.54 102.26 L307.07 102.78 L307.57 103.33 L308.04 103.90 L308.48 104.51 L308.89 105.13 L309.29 105.77 L309.67 106.42 L310.05 107.08 L310.43 107.72 L310.82 108.37 L311.20 109.02 L311.59 109.66 L311.98 110.31 L312.36 110.95 L312.74 111.60 L313.12 112.25 L313.49 112.90 L313.86 113.55 L314.22 114.21 L314.57 114.87 L314.92 115.53 L315.25 116.20 L315.58 116.87 L315.89 117.55 L316.20 118.23 L316.50 118.92 L316.79 119.61 L317.08 120.30 L317.37 121.00 L317.65 121.69 L317.93 122.39 L318.21 123.09 L318.50 123.78 L318.78 124.48 L319.07 125.17 L319.36 125.86 L319.66 126.55 L319.96 127.24 L320.25 127.93 L320.54 128.62 L320.83 129.31 L321.11 130.01 L321.39 130.71 L321.65 131.41 L321.91 132.11 L322.15 132.82 L322.39 133.53 L322.63 134.24 L322.86 134.96 L323.09 135.67 L323.32 136.39 L323.55 137.10 L323.78 137.82 L324.01 138.53 L324.25 139.24 L324.48 139.95 L324.72 140.66 L324.97 141.37 L325.21 142.08 L325.46 142.79 L325.72 143.49 L325.98 144.20 L326.24 144.90 L326.51 145.60 L326.79 146.30 L327.07 146.99 L327.36 147.68 L327.50 148.00"/>
<path class="c" stroke="#eca418" stroke-width="1.0" d="M64.20 36.20 L64.95 36.29 L65.69 36.36 L66.44 36.42 L67.19 36.47 L67.94 36.50 L68.69 36.51 L69.44 36.52 L70.19 36.53 L70.94 36.53 L71.69 36.53 L72.44 36.53 L73.19 36.52 L73.94 36.52 L74.69 36.52 L75.44 36.52 L76.19 36.52 L76.94 36.52 L77.69 36.53 L78.44 36.53 L79.19 36.53 L79.94 36.54 L80.69 36.54 L81.44 36.54 L82.19 36.55 L82.94 36.55 L83.69 36.55 L84.44 36.55 L85.19 36.55 L85.94 36.56 L86.69 36.56 L87.44 36.56 L88.19 36.56 L88.94 36.57 L89.69 36.57 L90.44 36.57 L91.19 36.57 L91.94 36.58 L92.69 36.58 L93.44 36.58 L94.19 36.58 L94.94 36.58 L95.69 36.58 L96.44 36.58 L97.19 36.58 L97.94 36.58 L98.69 36.59 L99.44 36.59 L100.19 36.60 L100.94 36.62 L101.69 36.64 L102.44 36.66 L103.19 36.69 L103.94 36.72 L104.69 36.75 L105.44 36.78 L106.18 36.81 L106.93 36.83 L107.68 36.86 L108.43 36.88 L109.18 36.91 L109.93 36.93 L110.68 36.96 L111.43 36.98 L112.18 37.01 L112.93 37.03 L113.68 37.06 L114.43 37.08 L115.18 37.11 L115.93 37.13 L116.68 37.16 L117.43 37.18 L118.18 37.21 L118.93 37.23 L119.68 37.26 L120.43 37.28 L121.18 37.31 L121.93 37.33 L122.68 37.36 L123.43 37.38 L124.17 37.41 L124.92 37.43 L125.67 37.46 L126.42 37.49 L127.17 37.51 L127.92 37.54 L128.67 37.56 L129.42 37.58 L130.17 37.60 L130.92 37.62 L131.67 37.64 L132.42 37.65 L133.17 37.67 L133.92 37.68 L134.67 37.70 L135.42 37.71 L136.17 37.72 L136.92 37.74 L137.67 37.75 L138.42 37.77 L139.17 37.78 L139.92 37.80 L140.67 37.81 L141.42 37.83 L142.17 37.84 L142.92 37.86 L143.67 37.87 L144.42 37.89 L145.17 37.90 L145.92 37.92 L146.67 37.93 L147.42 37.95 L148.17 37.96 L148.92 37.98 L149.67 37.99 L150.42 38.01 L151.17 38.02 L151.92 38.04 L152.67 38.05 L153.42 38.07 L154.17 38.08 L154.92 38.10 L155.67 38.11 L156.42 38.13 L157.17 38.14 L157.92 38.16 L158.67 38.17 L159.42 38.19 L160.17 38.20 L160.92 38.22 L161.67 38.23 L162.41 38.25 L163.16 38.26 L163.91 38.28 L164.66 38.29 L165.41 38.31 L166.16 38.32 L166.91 38.34 L167.66 38.35 L168.41 38.37 L169.16 38.38 L169.91 38.40 L170.66 38.41 L171.41 38.43 L172.16 38.44 L172.91 38.46 L173.66 38.47 L174.41 38.49 L175.16 38.51 L175.91 38.52 L176.66 38.54 L177.41 38.55 L178.16 38.57 L178.91 38.58 L179.66 38.60 L180.41 38.61 L181.16 38.61 L181.91 38.62 L182.66 38.63 L183.41 38.63 L184.17 38.64 L184.92 38.65 L185.67 38.66 L186.42 38.67 L187.17 38.69 L187.91 38.71 L188.66 38.74 L189.41 38.77 L190.16 38.81 L190.91 38.86 L191.65 38.93 L192.40 39.01 L193.14 39.09 L193.89 39.19 L194.63 39.28 L195.37 39.38 L196.12 39.48 L196.86 39.57 L197.61 39.66 L198.36 39.74 L199.10 39.81 L199.85 39.87 L200.60 39.92 L201.35 39.98 L202.10 40.05 L202.84 40.15 L203.57 40.28 L204.30 40.43 L205.03 40.61 L205.76 40.80 L206.49 41.00 L207.21 41.19 L207.94 41.39 L208.67 41.56 L209.40 41.73 L210.14 41.90 L210.87 42.06 L211.60 42.21 L212.34 42.37 L213.07 42.53 L213.80 42.70 L214.53 42.88 L215.25 43.07 L215.97 43.28 L216.68 43.50 L217.40 43.74 L218.10 43.99 L218.81 44.26 L219.50 44.54 L220.20 44.83 L220.89 45.12 L221.57 45.43 L222.25 45.76 L222.92 46.09 L223.59 46.43 L224.25 46.77 L224.92 47.13 L225.58 47.48 L226.24 47.84 L226.89 48.20 L227.55 48.56 L228.20 48.93 L228.85 49.30 L229.50 49.67 L230.15 50.05 L230.80 50.43 L231.45 50.81 L232.09 51.19 L232.74 51.58 L233.39 51.97 L234.04 52.36 L234.69 52.76 L235.32 53.16 L235.94 53.59 L236.54 54.03 L237.10 54.50 L237.63 55.00 L238.15 55.52 L238.64 56.07 L239.12 56.63 L239.59 57.22 L240.04 57.82 L240.47 58.44 L240.90 59.07 L241.31 59.71 L241.72 60.36 L242.12 61.01 L242.51 61.67 L242.90 62.32 L243.29 62.98 L243.68 63.63 L244.06 64.27 L244.45 64.92 L244.82 65.57 L245.19 66.22 L245.56 66.87 L245.92 67.53 L246.28 68.19 L246.62 68.85 L246.96 69.52 L247.30 70.20 L247.61 70.89 L247.92 71.59 L248.22 72.29 L248.51 73.00 L248.81 73.71 L249.11 74.41 L249.43 75.10 L249.76 75.78 L250.11 76.43 L250.48 77.07 L250.89 77.67 L251.33 78.24 L251.82 78.78 L252.36 79.29 L252.94 79.78 L253.55 80.24 L254.17 80.69 L254.80 81.11 L255.44 81.51 L256.08 81.90 L256.73 82.27 L257.39 82.63 L258.05 82.98 L258.72 83.32 L259.40 83.65 L260.08 83.97 L260.76 84.28 L261.45 84.59 L262.13 84.89 L262.82 85.20 L263.51 85.49 L264.20 85.79 L264.89 86.07 L265.58 86.35 L266.28 86.63 L266.98 86.91 L267.68 87.18 L268.38 87.45 L269.08 87.72 L269.78 87.99 L270.48 88.25 L271.18 88.52 L271.89 88.78 L272.59 89.04 L273.30 89.30 L274.01 89.55 L274.71 89.81 L275.42 90.06 L276.13 90.32 L276.83 90.59 L277.53 90.86 L278.22 91.14 L278.91 91.42 L279.60 91.72 L280.28 92.04 L280.95 92.36 L281.62 92.70 L282.28 93.06 L282.94 93.42 L283.59 93.80 L284.24 94.19 L284.88 94.59 L285.50 95.00 L286.12 95.43 L286.73 95.86 L287.32 96.31 L287.91 96.78 L288.49 97.26 L289.06 97.75 L289.62 98.25 L290.17 98.77 L290.71 99.29 L291.24 99.83 L291.75 100.37 L292.26 100.92 L292.75 101.49 L293.23 102.07 L293.70 102.66 L294.16 103.25 L294.60 103.86 L295.03 104.47 L295.45 105.09 L295.86 105.72 L296.26 106.36 L296.65 107.00 L297.03 107.65 L297.40 108.30 L297.76 108.96 L298.11 109.63 L298.45 110.29 L298.78 110.96 L299.11 111.64 L299.42 112.31 L299.73 113.00 L300.04 113.68 L300.34 114.37 L300.63 115.06 L300.92 115.75 L301.21 116.45 L301.50 117.14 L301.78 117.84 L302.06 118.53 L302.35 119.23 L302.63 119.92 L302.91 120.62 L303.19 121.31 L303.47 122.01 L303.75 122.71 L304.03 123.40 L304.31 124.10 L304.58 124.80 L304.86 125.49 L305.14 126.19 L305.42 126.88 L305.71 127.58 L305.99 128.27 L306.28 128.97 L306.57 129.66 L306.86 130.35 L307.16 131.04 L307.45 131.73 L307.75 132.42 L308.04 133.11 L308.32 133.80 L308.60 134.50 L308.86 135.20 L309.12 135.90 L309.38 136.61 L309.63 137.31 L309.88 138.02 L310.13 138.73 L310.38 139.44 L310.63 140.15 L310.88 140.85 L311.13 141.56 L311.38 142.27 L311.64 142.97 L311.90 143.67 L312.16 144.38 L312.42 145.08 L312.69 145.78 L312.95 146.48 L313.22 147.18 L313.48 147.88 L313.75 148.59 L314.01 149.29 L314.27 149.99 L314.53 150.70 L314.78 151.40 L315.03 152.11 L315.28 152.82 L315.51 153.54 L315.74 154.25 L315.97 154.97 L316.19 155.69 L316.42 156.41 L316.66 157.13 L316.91 157.83 L317.17 158.53 L317.45 159.22 L317.75 159.90 L318.08 160.57 L318.43 161.23 L318.81 161.88 L319.21 162.52 L319.63 163.15 L320.06 163.77 L320.52 164.37 L320.98 164.97 L321.45 165.54 L321.94 166.11 L322.44 166.66 L322.97 167.21 L323.50 167.74 L324.05 168.25 L324.61 168.76 L325.18 169.25 L325.76 169.73 L326.35 170.19 L326.96 170.63 L327.50 171.00"/>
</g>
<path fill="none" stroke="#4a4a4a" stroke-width="1" d="M43.95 5.50H327.95"/>
<path fill="none" stroke="#6a6a6a" stroke-width="1.1" d="M327.40 5.00V238.95"/>
<path fill="none" stroke="#333" stroke-width="1" d="M43.95 238.45H327.95"/>
<path fill="none" stroke="#333" stroke-width="1" d="M44.45 5.00V238.95"/>
<path fill="none" stroke="#3a3a3a" stroke-width="1" d="M44.50 238.50v4.60M115.25 238.50v2.40M186.00 238.50v4.60M256.75 238.50v2.40M327.50 238.50v4.60M44.50 238.50h-4.60M44.50 223.94h-2.40M44.50 209.38h-4.60M44.50 194.81h-2.40M44.50 180.25h-4.60M44.50 165.69h-2.40M44.50 151.12h-4.60M44.50 136.56h-2.40M44.50 122.00h-4.60M44.50 107.44h-2.40M44.50 92.88h-4.60M44.50 78.31h-2.40M44.50 63.75h-4.60M44.50 49.19h-2.40M44.50 34.62h-4.60M44.50 20.06h-2.40M44.50 5.50h-4.60"/>
<text class="tk" transform="translate(44.50 254.60) scale(1.02 1)" text-anchor="middle">0</text>
<text class="tk" transform="translate(186.00 254.60) scale(1.02 1)" text-anchor="middle">200</text>
<text class="tk" transform="translate(327.50 254.60) scale(1.02 1)" text-anchor="middle">400</text>
<text class="tk" x="36.60" y="241.95" text-anchor="end">-40</text>
<text class="tk" x="36.60" y="212.82" text-anchor="end">-20</text>
<text class="tk" x="36.60" y="183.70" text-anchor="end">0</text>
<text class="tk" x="36.60" y="154.57" text-anchor="end">20</text>
<text class="tk" x="36.60" y="125.45" text-anchor="end">40</text>
<text class="tk" x="36.60" y="96.33" text-anchor="end">60</text>
<text class="tk" x="36.60" y="67.20" text-anchor="end">80</text>
<text class="tk" x="36.60" y="38.08" text-anchor="end">100</text>
<text class="tk" x="36.60" y="8.95" text-anchor="end">120</text>
<text transform="translate(185.4 269.5) scale(0.97 1)" text-anchor="middle" font-size="13.6" font-weight="bold">Temperature (<tspan font-size="9" dy="-5.2">o</tspan><tspan dy="5.2">C)</tspan></text>
<text transform="translate(10.0 117.9) rotate(-90) scale(0.956 1)" text-anchor="middle" font-size="13.6" font-weight="bold">Mass (%)</text>
<text x="47.8" y="17.5" font-size="15" font-weight="bold">a</text>
<path class="c" stroke="#262626" stroke-width="1.0" d="M51.00 118.30H73.00"/>
<text class="lg" transform="translate(75.60 121.50) scale(0.957 1)" font-size="10.0">PUF/CT0%</text>
<path class="c" stroke="#ff0808" stroke-width="1.0" d="M51.00 130.52H73.00"/>
<text class="lg" transform="translate(75.60 133.72) scale(0.957 1)" font-size="10.0">PUF/CT1%</text>
<path class="c" stroke="#1010ff" stroke-width="1.2" d="M51.00 142.74H73.00"/>
<text class="lg" transform="translate(75.60 145.94) scale(0.957 1)" font-size="10.0">PUF/CT2%</text>
<path class="c" stroke="#14ee14" stroke-width="1.0" d="M51.00 154.96H73.00"/>
<text class="lg" transform="translate(75.60 158.16) scale(0.957 1)" font-size="10.0">PUF/CT3%</text>
<path class="c" stroke="#a866e8" stroke-width="1.0" d="M51.00 167.18H73.00"/>
<text class="lg" transform="translate(75.60 170.38) scale(0.957 1)" font-size="10.0">PUF/CT4%</text>
<path class="c" stroke="#eca418" stroke-width="1.0" d="M51.00 179.40H73.00"/>
<text class="lg" transform="translate(75.60 182.60) scale(0.957 1)" font-size="10.0">PUF/CT5%</text>
</g>
<g id="plot-b">
<clipPath id="clip-b"><rect x="385.50" y="5.50" width="299.00" height="228.30"/></clipPath>
<g clip-path="url(#clip-b)">
<path class="c" stroke="#262626" stroke-width="1.1" d="M406.10 181.00 L406.25 181.73 L406.40 182.47 L406.55 183.20 L406.70 183.93 L406.86 184.67 L407.01 185.40 L407.17 186.13 L407.33 186.87 L407.48 187.60 L407.64 188.34 L407.80 189.07 L407.96 189.81 L408.12 190.54 L408.27 191.28 L408.43 192.01 L408.58 192.75 L408.73 193.48 L408.88 194.22 L409.03 194.95 L409.17 195.69 L409.32 196.43 L409.46 197.16 L409.60 197.90 L409.74 198.63 L409.88 199.37 L410.02 200.10 L410.15 200.84 L410.28 201.58 L410.40 202.33 L410.53 203.07 L410.67 203.81 L410.83 204.55 L411.01 205.28 L411.21 206.00 L411.44 206.71 L411.70 207.41 L412.04 208.13 L412.46 208.80 L412.97 209.28 L413.59 209.55 L414.33 209.71 L415.13 209.79 L415.92 209.80 L416.67 209.75 L417.42 209.63 L418.15 209.49 L418.88 209.33 L419.61 209.15 L420.33 208.95 L421.06 208.76 L421.80 208.62 L422.54 208.56 L423.28 208.52 L424.03 208.50 L424.78 208.49 L425.53 208.50 L426.29 208.51 L427.04 208.52 L427.79 208.53 L428.55 208.54 L429.30 208.54 L430.05 208.53 L430.80 208.52 L431.55 208.51 L432.30 208.50 L433.05 208.48 L433.79 208.47 L434.54 208.46 L435.29 208.45 L436.04 208.43 L436.79 208.42 L437.54 208.42 L438.29 208.41 L439.04 208.40 L439.79 208.40 L440.54 208.40 L441.29 208.40 L442.04 208.40 L442.79 208.40 L443.54 208.40 L444.29 208.40 L445.04 208.40 L445.79 208.40 L446.54 208.40 L447.29 208.40 L448.04 208.40 L448.79 208.40 L449.54 208.40 L450.29 208.40 L451.04 208.40 L451.79 208.40 L452.54 208.40 L453.29 208.40 L454.04 208.40 L454.79 208.40 L455.54 208.40 L456.29 208.40 L457.04 208.40 L457.79 208.40 L458.54 208.40 L459.29 208.40 L460.04 208.40 L460.79 208.40 L461.54 208.40 L462.29 208.40 L463.04 208.40 L463.79 208.40 L464.54 208.40 L465.29 208.40 L466.04 208.40 L466.79 208.40 L467.54 208.40 L468.29 208.40 L469.04 208.40 L469.79 208.40 L470.54 208.40 L471.29 208.40 L472.04 208.40 L472.79 208.40 L473.54 208.40 L474.29 208.40 L475.04 208.40 L475.79 208.40 L476.54 208.40 L477.29 208.40 L478.04 208.40 L478.79 208.40 L479.54 208.40 L480.29 208.40 L481.04 208.40 L481.79 208.39 L482.54 208.39 L483.29 208.39 L484.04 208.38 L484.79 208.38 L485.54 208.37 L486.29 208.37 L487.04 208.36 L487.79 208.36 L488.54 208.36 L489.29 208.35 L490.04 208.35 L490.79 208.35 L491.54 208.34 L492.29 208.34 L493.04 208.33 L493.79 208.33 L494.54 208.33 L495.29 208.32 L496.04 208.32 L496.79 208.32 L497.54 208.31 L498.29 208.31 L499.04 208.30 L499.79 208.30 L500.54 208.30 L501.29 208.29 L502.04 208.29 L502.79 208.29 L503.54 208.28 L504.29 208.28 L505.04 208.28 L505.79 208.27 L506.54 208.27 L507.29 208.26 L508.04 208.26 L508.79 208.25 L509.54 208.25 L510.29 208.24 L511.04 208.24 L511.79 208.24 L512.54 208.23 L513.29 208.23 L514.04 208.23 L514.79 208.23 L515.54 208.24 L516.29 208.24 L517.04 208.23 L517.79 208.23 L518.54 208.22 L519.29 208.21 L520.04 208.20 L520.79 208.17 L521.54 208.14 L522.29 208.09 L523.04 208.04 L523.79 207.98 L524.54 207.93 L525.28 207.88 L526.03 207.83 L526.78 207.79 L527.53 207.74 L528.28 207.70 L529.03 207.66 L529.78 207.61 L530.52 207.57 L531.27 207.53 L532.02 207.49 L532.77 207.45 L533.52 207.41 L534.27 207.36 L535.02 207.30 L535.76 207.23 L536.51 207.15 L537.26 207.06 L538.00 206.96 L538.75 206.85 L539.49 206.73 L540.23 206.60 L540.97 206.46 L541.70 206.30 L542.43 206.14 L543.15 205.96 L543.87 205.76 L544.59 205.55 L545.30 205.31 L546.01 205.07 L546.72 204.81 L547.42 204.54 L548.12 204.26 L548.82 203.98 L549.52 203.70 L550.21 203.41 L550.90 203.12 L551.59 202.82 L552.28 202.52 L552.96 202.20 L553.64 201.87 L554.30 201.53 L554.96 201.18 L555.61 200.81 L556.25 200.41 L556.88 200.00 L557.50 199.57 L558.10 199.12 L558.68 198.65 L559.24 198.14 L559.79 197.62 L560.34 197.10 L560.89 196.59 L561.45 196.09 L562.03 195.62 L562.62 195.18 L563.25 194.78 L563.89 194.40 L564.55 194.04 L565.23 193.70 L565.92 193.39 L566.62 193.10 L567.32 192.83 L568.03 192.59 L568.76 192.35 L569.49 192.14 L570.23 191.99 L570.97 191.91 L571.71 191.93 L572.46 192.08 L573.20 192.33 L573.89 192.65 L574.49 193.03 L575.03 193.51 L575.51 194.07 L575.96 194.69 L576.38 195.35 L576.78 196.02 L577.18 196.67 L577.58 197.31 L577.98 197.94 L578.37 198.58 L578.75 199.22 L579.14 199.86 L579.52 200.51 L579.89 201.16 L580.27 201.82 L580.63 202.52 L581.00 203.24 L581.37 203.94 L581.78 204.59 L582.24 205.13 L582.77 205.54 L583.39 205.84 L584.09 206.08 L584.85 206.26 L585.63 206.40 L586.41 206.49 L587.17 206.56 L587.92 206.63 L588.68 206.69 L589.43 206.75 L590.18 206.79 L590.93 206.81 L591.67 206.82 L592.41 206.81 L593.15 206.78 L593.89 206.70 L594.62 206.57 L595.36 206.41 L596.09 206.21 L596.82 205.98 L597.54 205.74 L598.25 205.48 L598.95 205.22 L599.65 204.94 L600.33 204.63 L601.00 204.30 L601.67 203.95 L602.33 203.59 L602.98 203.20 L603.62 202.80 L604.26 202.40 L604.88 201.98 L605.50 201.56 L606.11 201.13 L606.71 200.69 L607.30 200.23 L607.89 199.76 L608.47 199.29 L609.05 198.81 L609.63 198.33 L610.21 197.85 L610.79 197.37 L611.37 196.89 L611.95 196.42 L612.54 195.95 L613.14 195.48 L613.73 195.00 L614.30 194.52 L614.87 194.03 L615.41 193.51 L615.92 192.98 L616.41 192.42 L616.87 191.84 L617.31 191.24 L617.74 190.62 L618.16 189.99 L618.58 189.36 L619.01 188.74 L619.44 188.12 L619.88 187.50 L620.32 186.89 L620.76 186.27 L621.20 185.66 L621.64 185.05 L622.08 184.44 L622.52 183.84 L622.96 183.23 L623.39 182.62 L623.81 182.02 L624.23 181.41 L624.63 180.80 L625.03 180.18 L625.42 179.55 L625.82 178.92 L626.22 178.29 L626.64 177.67 L627.08 177.05 L627.55 176.43 L628.05 175.82 L628.59 175.19 L629.16 174.56 L629.76 174.03 L630.38 173.65 L630.99 173.50 L631.60 173.62 L632.23 173.97 L632.85 174.48 L633.44 175.09 L633.98 175.73 L634.46 176.35 L634.90 176.98 L635.30 177.62 L635.68 178.28 L636.02 178.96 L636.34 179.63 L636.64 180.32 L636.92 181.01 L637.19 181.70 L637.44 182.39 L637.67 183.08 L637.90 183.79 L638.11 184.51 L638.31 185.23 L638.51 185.95 L638.70 186.68 L638.90 187.41 L639.09 188.15 L639.29 188.88 L639.50 189.60 L639.72 190.33 L639.95 191.04 L640.20 191.75 L640.46 192.45 L640.74 193.15 L641.04 193.84 L641.36 194.52 L641.69 195.19 L642.05 195.86 L642.42 196.51 L642.81 197.15 L643.21 197.78 L643.64 198.40 L644.10 199.02 L644.57 199.62 L645.07 200.19 L645.59 200.74 L646.14 201.24 L646.71 201.71 L647.31 202.13 L647.94 202.53 L648.60 202.90 L649.28 203.24 L649.97 203.55 L650.68 203.84 L651.39 204.09 L652.10 204.33 L652.81 204.54 L653.53 204.74 L654.26 204.92 L654.99 205.10 L655.73 205.26 L656.47 205.41 L657.21 205.55 L657.95 205.68 L658.69 205.80 L659.43 205.92 L660.17 206.03 L660.91 206.14 L661.65 206.24 L662.40 206.34 L663.14 206.44 L663.89 206.53 L664.63 206.62 L665.38 206.70 L666.12 206.78 L666.87 206.86 L667.62 206.94 L668.36 207.01 L669.11 207.08 L669.86 207.15 L670.60 207.22 L671.35 207.28 L672.10 207.34 L672.85 207.40 L673.59 207.46 L674.34 207.52 L675.09 207.58 L675.84 207.64 L676.58 207.70 L677.33 207.76 L678.08 207.83 L678.83 207.89 L679.57 207.95 L680.32 208.01 L681.07 208.08 L681.82 208.14 L682.56 208.20 L683.31 208.26 L684.06 208.32 L684.81 208.38 L685.00 208.40"/>
<path class="c" stroke="#ff0808" stroke-width="1.0" d="M404.00 206.50 L404.64 206.96 L405.30 207.35 L405.97 207.68 L406.67 207.92 L407.38 208.07 L408.11 208.19 L408.85 208.27 L409.60 208.33 L410.36 208.37 L411.12 208.39 L411.88 208.40 L412.63 208.40 L413.38 208.40 L414.14 208.40 L414.89 208.40 L415.63 208.39 L416.38 208.39 L417.13 208.39 L417.88 208.39 L418.63 208.39 L419.38 208.39 L420.13 208.39 L420.88 208.38 L421.63 208.38 L422.38 208.38 L423.13 208.38 L423.88 208.38 L424.63 208.38 L425.38 208.38 L426.13 208.37 L426.88 208.37 L427.63 208.37 L428.38 208.37 L429.13 208.37 L429.88 208.37 L430.63 208.37 L431.38 208.36 L432.13 208.36 L432.88 208.36 L433.63 208.36 L434.38 208.36 L435.13 208.36 L435.88 208.36 L436.63 208.35 L437.38 208.35 L438.13 208.35 L438.88 208.35 L439.63 208.35 L440.38 208.35 L441.13 208.35 L441.88 208.34 L442.63 208.34 L443.38 208.34 L444.13 208.34 L444.88 208.34 L445.63 208.34 L446.38 208.34 L447.13 208.33 L447.88 208.33 L448.63 208.33 L449.38 208.33 L450.13 208.33 L450.88 208.33 L451.63 208.33 L452.38 208.33 L453.13 208.32 L453.88 208.32 L454.63 208.32 L455.38 208.32 L456.13 208.32 L456.88 208.32 L457.63 208.32 L458.38 208.31 L459.13 208.31 L459.88 208.31 L460.63 208.31 L461.38 208.31 L462.13 208.31 L462.88 208.31 L463.63 208.30 L464.38 208.30 L465.13 208.30 L465.88 208.30 L466.63 208.30 L467.38 208.30 L468.13 208.30 L468.88 208.29 L469.63 208.29 L470.38 208.29 L471.13 208.29 L471.88 208.29 L472.63 208.29 L473.38 208.29 L474.13 208.28 L474.88 208.28 L475.63 208.28 L476.38 208.28 L477.13 208.28 L477.88 208.28 L478.63 208.28 L479.38 208.28 L480.13 208.27 L480.88 208.27 L481.63 208.27 L482.38 208.27 L483.13 208.27 L483.88 208.27 L484.63 208.27 L485.38 208.26 L486.13 208.26 L486.88 208.26 L487.63 208.26 L488.38 208.26 L489.13 208.26 L489.88 208.26 L490.63 208.25 L491.38 208.25 L492.13 208.25 L492.88 208.25 L493.63 208.25 L494.38 208.25 L495.13 208.25 L495.88 208.24 L496.63 208.24 L497.38 208.24 L498.13 208.24 L498.88 208.24 L499.63 208.24 L500.38 208.24 L501.13 208.24 L501.88 208.23 L502.63 208.23 L503.38 208.23 L504.13 208.23 L504.88 208.23 L505.63 208.23 L506.38 208.23 L507.13 208.22 L507.88 208.22 L508.63 208.22 L509.38 208.22 L510.13 208.21 L510.88 208.21 L511.63 208.21 L512.38 208.21 L513.13 208.21 L513.88 208.21 L514.63 208.22 L515.38 208.22 L516.13 208.22 L516.88 208.22 L517.63 208.22 L518.38 208.22 L519.13 208.21 L519.88 208.20 L520.63 208.18 L521.38 208.15 L522.13 208.11 L522.87 208.05 L523.62 208.00 L524.37 207.94 L525.12 207.89 L525.87 207.84 L526.62 207.79 L527.37 207.74 L528.11 207.70 L528.86 207.65 L529.61 207.60 L530.36 207.56 L531.11 207.51 L531.86 207.47 L532.61 207.42 L533.35 207.37 L534.10 207.32 L534.85 207.28 L535.60 207.23 L536.35 207.18 L537.10 207.14 L537.85 207.10 L538.60 207.06 L539.35 207.03 L540.10 206.99 L540.85 206.94 L541.59 206.89 L542.34 206.82 L543.08 206.75 L543.83 206.66 L544.57 206.55 L545.31 206.43 L546.05 206.29 L546.79 206.14 L547.53 205.98 L548.26 205.81 L549.00 205.62 L549.73 205.43 L550.45 205.22 L551.18 205.01 L551.90 204.79 L552.61 204.56 L553.33 204.32 L554.03 204.08 L554.74 203.83 L555.43 203.58 L556.12 203.31 L556.81 203.02 L557.48 202.72 L558.16 202.41 L558.83 202.09 L559.50 201.75 L560.16 201.41 L560.83 201.07 L561.49 200.72 L562.15 200.36 L562.82 200.01 L563.49 199.66 L564.16 199.31 L564.83 198.96 L565.51 198.62 L566.19 198.29 L566.87 197.97 L567.57 197.66 L568.27 197.35 L568.98 197.04 L569.70 196.74 L570.42 196.48 L571.14 196.27 L571.87 196.14 L572.59 196.10 L573.33 196.18 L574.06 196.39 L574.76 196.69 L575.42 197.03 L576.04 197.46 L576.62 197.96 L577.16 198.52 L577.63 199.10 L578.03 199.71 L578.38 200.37 L578.69 201.06 L578.98 201.76 L579.27 202.47 L579.59 203.16 L579.95 203.81 L580.36 204.43 L580.85 205.05 L581.39 205.64 L581.98 206.13 L582.60 206.47 L583.26 206.65 L583.95 206.78 L584.67 206.87 L585.41 206.92 L586.18 206.94 L586.96 206.93 L587.74 206.91 L588.53 206.88 L589.31 206.84 L590.08 206.80 L590.84 206.76 L591.61 206.72 L592.37 206.68 L593.12 206.63 L593.88 206.57 L594.63 206.51 L595.38 206.44 L596.12 206.36 L596.86 206.27 L597.59 206.16 L598.31 206.03 L599.03 205.89 L599.75 205.72 L600.45 205.50 L601.15 205.24 L601.85 204.96 L602.54 204.65 L603.23 204.32 L603.92 203.99 L604.60 203.65 L605.27 203.31 L605.94 202.98 L606.61 202.64 L607.28 202.29 L607.94 201.94 L608.60 201.59 L609.26 201.24 L609.92 200.88 L610.59 200.53 L611.25 200.18 L611.92 199.84 L612.59 199.50 L613.27 199.16 L613.94 198.81 L614.60 198.44 L615.23 198.05 L615.84 197.62 L616.41 197.15 L616.95 196.62 L617.47 196.07 L617.99 195.51 L618.52 194.98 L619.09 194.51 L619.69 194.09 L620.32 193.69 L620.98 193.32 L621.66 192.98 L622.35 192.67 L623.06 192.39 L623.79 192.14 L624.51 191.92 L625.24 191.74 L625.97 191.58 L626.71 191.43 L627.46 191.30 L628.21 191.20 L628.96 191.13 L629.71 191.09 L630.45 191.10 L631.20 191.19 L631.94 191.36 L632.68 191.59 L633.38 191.88 L634.05 192.21 L634.66 192.59 L635.23 193.04 L635.77 193.56 L636.28 194.12 L636.78 194.72 L637.27 195.32 L637.75 195.92 L638.23 196.50 L638.70 197.09 L639.17 197.69 L639.64 198.28 L640.12 198.87 L640.61 199.43 L641.12 199.96 L641.66 200.47 L642.23 200.94 L642.83 201.39 L643.46 201.81 L644.10 202.21 L644.75 202.59 L645.41 202.95 L646.08 203.30 L646.75 203.63 L647.44 203.96 L648.13 204.27 L648.82 204.57 L649.53 204.84 L650.24 205.08 L650.95 205.30 L651.67 205.49 L652.39 205.65 L653.12 205.80 L653.85 205.93 L654.59 206.04 L655.33 206.14 L656.08 206.24 L656.82 206.32 L657.58 206.40 L658.33 206.47 L659.08 206.54 L659.83 206.61 L660.58 206.68 L661.33 206.75 L662.08 206.83 L662.83 206.91 L663.58 206.99 L664.32 207.08 L665.07 207.17 L665.81 207.26 L666.56 207.35 L667.31 207.44 L668.05 207.53 L668.80 207.62 L669.54 207.70 L670.29 207.79 L671.03 207.87 L671.78 207.94 L672.52 208.01 L673.27 208.08 L674.01 208.13 L674.76 208.19 L675.51 208.23 L676.25 208.27 L677.00 208.31 L677.75 208.34 L678.50 208.37 L679.24 208.40 L679.99 208.42 L680.74 208.43 L681.49 208.44 L682.25 208.44 L683.00 208.44 L683.75 208.43 L684.50 208.42 L685.00 208.40"/>
<path class="c" stroke="#1010ff" stroke-width="1.0" d="M404.00 207.00 L404.65 207.42 L405.32 207.80 L406.00 208.10 L406.71 208.33 L407.42 208.48 L408.15 208.59 L408.90 208.68 L409.65 208.74 L410.41 208.78 L411.17 208.80 L411.92 208.80 L412.68 208.79 L413.43 208.76 L414.18 208.72 L414.93 208.68 L415.67 208.63 L416.42 208.58 L417.17 208.53 L417.92 208.48 L418.67 208.44 L419.41 208.41 L420.16 208.40 L420.91 208.39 L421.66 208.38 L422.41 208.38 L423.16 208.38 L423.91 208.38 L424.66 208.38 L425.41 208.38 L426.16 208.39 L426.91 208.39 L427.66 208.39 L428.41 208.39 L429.16 208.39 L429.91 208.38 L430.66 208.38 L431.41 208.38 L432.16 208.38 L432.91 208.37 L433.66 208.37 L434.41 208.37 L435.16 208.37 L435.91 208.37 L436.66 208.37 L437.41 208.36 L438.16 208.36 L438.91 208.36 L439.66 208.36 L440.41 208.36 L441.16 208.36 L441.91 208.36 L442.66 208.35 L443.41 208.35 L444.16 208.35 L444.91 208.35 L445.66 208.35 L446.41 208.35 L447.16 208.35 L447.91 208.34 L448.66 208.34 L449.41 208.34 L450.16 208.34 L450.91 208.34 L451.66 208.34 L452.41 208.34 L453.16 208.33 L453.91 208.33 L454.66 208.33 L455.41 208.33 L456.16 208.33 L456.91 208.33 L457.66 208.32 L458.41 208.32 L459.16 208.32 L459.91 208.32 L460.66 208.32 L461.41 208.32 L462.16 208.32 L462.91 208.31 L463.66 208.31 L464.41 208.31 L465.16 208.31 L465.91 208.31 L466.66 208.31 L467.41 208.31 L468.16 208.30 L468.91 208.30 L469.66 208.30 L470.41 208.30 L471.16 208.30 L471.91 208.30 L472.66 208.29 L473.41 208.29 L474.16 208.29 L474.91 208.29 L475.66 208.29 L476.41 208.29 L477.16 208.29 L477.91 208.28 L478.66 208.28 L479.41 208.28 L480.16 208.28 L480.91 208.28 L481.66 208.28 L482.41 208.28 L483.16 208.27 L483.91 208.27 L484.66 208.27 L485.41 208.27 L486.16 208.27 L486.91 208.27 L487.66 208.26 L488.41 208.26 L489.16 208.26 L489.91 208.26 L490.66 208.26 L491.41 208.26 L492.16 208.26 L492.91 208.25 L493.66 208.25 L494.41 208.25 L495.16 208.25 L495.91 208.25 L496.66 208.25 L497.41 208.24 L498.16 208.24 L498.91 208.24 L499.66 208.24 L500.41 208.24 L501.16 208.24 L501.91 208.24 L502.66 208.24 L503.41 208.23 L504.16 208.23 L504.91 208.23 L505.66 208.23 L506.41 208.23 L507.16 208.23 L507.91 208.22 L508.66 208.22 L509.41 208.22 L510.16 208.21 L510.91 208.21 L511.66 208.21 L512.41 208.21 L513.16 208.21 L513.91 208.22 L514.66 208.22 L515.41 208.22 L516.16 208.22 L516.91 208.22 L517.66 208.22 L518.41 208.22 L519.16 208.21 L519.91 208.20 L520.66 208.18 L521.41 208.15 L522.16 208.10 L522.91 208.05 L523.66 208.00 L524.41 207.94 L525.15 207.88 L525.90 207.83 L526.65 207.79 L527.40 207.74 L528.15 207.69 L528.90 207.65 L529.64 207.60 L530.39 207.56 L531.14 207.51 L531.89 207.46 L532.64 207.42 L533.39 207.37 L534.14 207.32 L534.88 207.28 L535.63 207.23 L536.38 207.18 L537.13 207.14 L537.88 207.10 L538.63 207.06 L539.38 207.02 L540.13 206.98 L540.88 206.93 L541.62 206.88 L542.37 206.82 L543.12 206.75 L543.86 206.67 L544.61 206.58 L545.35 206.48 L546.10 206.36 L546.84 206.24 L547.58 206.10 L548.32 205.96 L549.06 205.81 L549.80 205.64 L550.53 205.47 L551.26 205.29 L551.99 205.10 L552.71 204.91 L553.43 204.70 L554.15 204.49 L554.87 204.27 L555.57 204.05 L556.28 203.80 L556.98 203.53 L557.67 203.26 L558.36 202.96 L559.05 202.66 L559.73 202.35 L560.42 202.04 L561.10 201.72 L561.79 201.40 L562.47 201.08 L563.16 200.77 L563.84 200.46 L564.54 200.16 L565.23 199.88 L565.93 199.61 L566.63 199.35 L567.34 199.11 L568.06 198.89 L568.78 198.68 L569.51 198.47 L570.24 198.29 L570.98 198.15 L571.73 198.05 L572.47 198.00 L573.23 198.03 L573.99 198.13 L574.74 198.31 L575.45 198.56 L576.11 198.85 L576.70 199.25 L577.24 199.75 L577.75 200.32 L578.23 200.94 L578.69 201.57 L579.14 202.20 L579.57 202.88 L579.99 203.58 L580.41 204.28 L580.84 204.92 L581.30 205.48 L581.81 205.89 L582.38 206.17 L583.00 206.39 L583.68 206.56 L584.41 206.69 L585.16 206.78 L585.95 206.84 L586.75 206.87 L587.55 206.88 L588.36 206.87 L589.17 206.84 L589.95 206.80 L590.72 206.76 L591.48 206.70 L592.24 206.63 L592.99 206.55 L593.74 206.46 L594.48 206.35 L595.22 206.24 L595.96 206.12 L596.69 205.99 L597.42 205.84 L598.14 205.69 L598.86 205.53 L599.58 205.36 L600.31 205.15 L601.03 204.93 L601.74 204.67 L602.45 204.40 L603.15 204.10 L603.83 203.78 L604.50 203.44 L605.15 203.08 L605.79 202.70 L606.40 202.28 L606.99 201.83 L607.57 201.36 L608.14 200.87 L608.71 200.37 L609.28 199.87 L609.85 199.37 L610.43 198.88 L611.02 198.42 L611.63 197.98 L612.25 197.56 L612.89 197.16 L613.54 196.78 L614.19 196.41 L614.86 196.06 L615.53 195.72 L616.20 195.41 L616.89 195.10 L617.58 194.81 L618.27 194.53 L618.97 194.25 L619.68 193.97 L620.40 193.67 L621.12 193.39 L621.84 193.16 L622.57 192.98 L623.29 192.90 L624.00 192.94 L624.72 193.10 L625.42 193.37 L626.12 193.71 L626.80 194.10 L627.46 194.51 L628.09 194.93 L628.70 195.37 L629.28 195.85 L629.84 196.34 L630.39 196.86 L630.94 197.38 L631.48 197.90 L632.03 198.42 L632.58 198.92 L633.14 199.41 L633.72 199.89 L634.30 200.37 L634.88 200.84 L635.48 201.30 L636.08 201.75 L636.69 202.19 L637.31 202.62 L637.94 203.02 L638.58 203.42 L639.23 203.81 L639.89 204.19 L640.56 204.55 L641.23 204.87 L641.92 205.17 L642.62 205.42 L643.33 205.62 L644.05 205.80 L644.78 205.95 L645.52 206.09 L646.27 206.20 L647.02 206.30 L647.77 206.38 L648.52 206.45 L649.27 206.50 L650.02 206.55 L650.77 206.59 L651.52 206.62 L652.27 206.65 L653.02 206.68 L653.77 206.70 L654.52 206.72 L655.27 206.75 L656.02 206.77 L656.77 206.79 L657.52 206.81 L658.27 206.83 L659.02 206.86 L659.77 206.89 L660.52 206.93 L661.27 206.97 L662.01 207.01 L662.76 207.07 L663.51 207.14 L664.25 207.22 L665.00 207.30 L665.74 207.39 L666.49 207.48 L667.23 207.58 L667.98 207.68 L668.72 207.78 L669.47 207.87 L670.21 207.97 L670.96 208.06 L671.71 208.14 L672.45 208.22 L673.20 208.28 L673.94 208.34 L674.69 208.39 L675.44 208.42 L676.19 208.45 L676.93 208.47 L677.68 208.49 L678.43 208.51 L679.18 208.52 L679.93 208.53 L680.68 208.53 L681.43 208.52 L682.18 208.51 L682.93 208.49 L683.69 208.46 L684.44 208.43 L685.00 208.40"/>
<path class="c" stroke="#14ee14" stroke-width="1.0" d="M404.00 207.00 L404.68 207.39 L405.37 207.73 L406.07 208.00 L406.78 208.17 L407.50 208.24 L408.24 208.28 L408.98 208.30 L409.73 208.30 L410.48 208.29 L411.24 208.27 L412.00 208.25 L412.76 208.23 L413.52 208.20 L414.27 208.19 L415.02 208.18 L415.77 208.17 L416.52 208.17 L417.27 208.18 L418.02 208.18 L418.77 208.19 L419.52 208.19 L420.27 208.20 L421.02 208.20 L421.77 208.21 L422.52 208.21 L423.27 208.21 L424.02 208.21 L424.77 208.20 L425.52 208.20 L426.27 208.20 L427.02 208.20 L427.77 208.20 L428.52 208.20 L429.27 208.20 L430.02 208.20 L430.77 208.20 L431.52 208.20 L432.27 208.20 L433.02 208.20 L433.77 208.20 L434.52 208.20 L435.27 208.20 L436.02 208.20 L436.77 208.20 L437.52 208.20 L438.27 208.20 L439.02 208.20 L439.77 208.20 L440.52 208.20 L441.27 208.20 L442.02 208.20 L442.77 208.20 L443.52 208.20 L444.27 208.20 L445.02 208.20 L445.77 208.20 L446.52 208.20 L447.27 208.20 L448.02 208.20 L448.77 208.20 L449.52 208.20 L450.27 208.20 L451.02 208.20 L451.77 208.20 L452.52 208.20 L453.27 208.20 L454.02 208.20 L454.77 208.20 L455.52 208.20 L456.27 208.20 L457.02 208.20 L457.77 208.20 L458.52 208.20 L459.27 208.20 L460.02 208.20 L460.77 208.20 L461.52 208.20 L462.27 208.20 L463.02 208.20 L463.77 208.20 L464.52 208.20 L465.27 208.20 L466.02 208.20 L466.77 208.20 L467.52 208.20 L468.27 208.20 L469.02 208.20 L469.77 208.20 L470.52 208.20 L471.27 208.20 L472.02 208.20 L472.77 208.20 L473.52 208.20 L474.27 208.20 L475.02 208.20 L475.77 208.20 L476.52 208.20 L477.27 208.20 L478.02 208.20 L478.77 208.20 L479.52 208.20 L480.27 208.20 L481.02 208.20 L481.77 208.20 L482.52 208.20 L483.27 208.20 L484.02 208.20 L484.77 208.20 L485.52 208.20 L486.27 208.20 L487.02 208.20 L487.77 208.20 L488.52 208.20 L489.27 208.20 L490.02 208.20 L490.77 208.20 L491.52 208.20 L492.27 208.20 L493.02 208.20 L493.77 208.20 L494.52 208.20 L495.27 208.20 L496.02 208.20 L496.77 208.20 L497.52 208.20 L498.27 208.20 L499.02 208.20 L499.77 208.20 L500.52 208.20 L501.27 208.20 L502.02 208.20 L502.77 208.20 L503.52 208.20 L504.27 208.20 L505.02 208.20 L505.77 208.20 L506.52 208.20 L507.27 208.20 L508.02 208.20 L508.77 208.20 L509.52 208.20 L510.27 208.20 L511.02 208.19 L511.77 208.20 L512.52 208.20 L513.27 208.20 L514.02 208.20 L514.77 208.21 L515.52 208.21 L516.27 208.22 L517.02 208.22 L517.77 208.22 L518.52 208.22 L519.27 208.21 L520.02 208.20 L520.77 208.18 L521.52 208.14 L522.27 208.10 L523.01 208.05 L523.76 207.99 L524.51 207.93 L525.26 207.88 L526.01 207.83 L526.76 207.78 L527.50 207.73 L528.25 207.69 L529.00 207.64 L529.75 207.59 L530.50 207.55 L531.25 207.50 L532.00 207.46 L532.74 207.41 L533.49 207.36 L534.24 207.32 L534.99 207.27 L535.74 207.22 L536.49 207.18 L537.24 207.13 L537.98 207.09 L538.73 207.05 L539.48 207.01 L540.23 206.96 L540.98 206.92 L541.73 206.87 L542.48 206.81 L543.22 206.75 L543.97 206.67 L544.73 206.59 L545.48 206.50 L546.23 206.40 L546.98 206.29 L547.73 206.16 L548.47 206.03 L549.22 205.88 L549.96 205.73 L550.69 205.56 L551.42 205.37 L552.15 205.18 L552.86 204.97 L553.57 204.74 L554.28 204.50 L554.97 204.25 L555.65 203.97 L556.32 203.65 L556.99 203.30 L557.65 202.93 L558.30 202.55 L558.96 202.18 L559.62 201.83 L560.29 201.48 L560.95 201.13 L561.62 200.78 L562.28 200.44 L562.95 200.09 L563.61 199.74 L564.27 199.38 L564.92 199.01 L565.58 198.64 L566.24 198.28 L566.91 197.95 L567.59 197.64 L568.29 197.37 L569.01 197.10 L569.73 196.85 L570.47 196.62 L571.21 196.42 L571.96 196.26 L572.71 196.14 L573.45 196.08 L574.18 196.07 L574.91 196.14 L575.65 196.35 L576.36 196.68 L577.02 197.10 L577.57 197.57 L578.02 198.13 L578.41 198.79 L578.77 199.47 L579.14 200.14 L579.51 200.80 L579.90 201.46 L580.30 202.11 L580.73 202.72 L581.20 203.29 L581.72 203.81 L582.29 204.31 L582.90 204.77 L583.55 205.20 L584.23 205.55 L584.92 205.82 L585.62 206.00 L586.34 206.14 L587.07 206.25 L587.81 206.34 L588.56 206.40 L589.32 206.45 L590.08 206.48 L590.85 206.49 L591.61 206.50 L592.37 206.50 L593.13 206.50 L593.88 206.50 L594.63 206.51 L595.38 206.51 L596.13 206.52 L596.88 206.52 L597.63 206.52 L598.38 206.51 L599.13 206.50 L599.87 206.46 L600.62 206.39 L601.37 206.30 L602.12 206.19 L602.86 206.06 L603.60 205.90 L604.33 205.74 L605.06 205.56 L605.78 205.37 L606.49 205.15 L607.20 204.91 L607.90 204.64 L608.60 204.36 L609.29 204.06 L609.98 203.75 L610.66 203.44 L611.35 203.12 L612.03 202.80 L612.71 202.47 L613.39 202.13 L614.05 201.77 L614.70 201.39 L615.33 200.99 L615.93 200.55 L616.50 200.08 L617.03 199.56 L617.55 199.02 L618.05 198.45 L618.56 197.89 L619.07 197.33 L619.59 196.79 L620.11 196.25 L620.64 195.72 L621.18 195.19 L621.71 194.67 L622.25 194.15 L622.79 193.62 L623.33 193.10 L623.87 192.58 L624.41 192.06 L624.95 191.54 L625.48 191.02 L626.01 190.48 L626.54 189.93 L627.07 189.37 L627.60 188.83 L628.15 188.30 L628.72 187.81 L629.31 187.35 L629.93 186.95 L630.58 186.61 L631.30 186.31 L632.04 186.09 L632.77 186.00 L633.47 186.10 L634.15 186.39 L634.81 186.83 L635.42 187.34 L635.98 187.88 L636.48 188.43 L636.94 189.02 L637.36 189.64 L637.75 190.28 L638.13 190.94 L638.50 191.61 L638.85 192.27 L639.22 192.93 L639.58 193.59 L639.94 194.25 L640.29 194.91 L640.65 195.58 L641.02 196.24 L641.39 196.89 L641.77 197.54 L642.17 198.17 L642.60 198.78 L643.04 199.38 L643.51 199.97 L644.00 200.55 L644.51 201.11 L645.05 201.65 L645.61 202.16 L646.19 202.63 L646.79 203.06 L647.41 203.46 L648.06 203.83 L648.74 204.18 L649.43 204.50 L650.13 204.79 L650.84 205.04 L651.56 205.26 L652.28 205.45 L653.00 205.61 L653.73 205.76 L654.47 205.89 L655.21 206.01 L655.95 206.12 L656.70 206.22 L657.44 206.31 L658.19 206.40 L658.95 206.48 L659.70 206.56 L660.45 206.64 L661.19 206.73 L661.94 206.82 L662.69 206.91 L663.43 207.02 L664.17 207.12 L664.92 207.24 L665.66 207.35 L666.41 207.46 L667.15 207.58 L667.89 207.69 L668.64 207.80 L669.38 207.91 L670.12 208.01 L670.87 208.10 L671.61 208.18 L672.35 208.26 L673.10 208.32 L673.84 208.37 L674.59 208.41 L675.33 208.45 L676.08 208.48 L676.83 208.50 L677.57 208.52 L678.32 208.54 L679.07 208.55 L679.82 208.56 L680.57 208.55 L681.32 208.55 L682.07 208.53 L682.83 208.51 L683.58 208.48 L684.33 208.44 L685.00 208.40"/>
<path class="c" stroke="#e566ff" stroke-width="1.0" d="M402.30 208.40 L403.05 208.40 L403.80 208.39 L404.55 208.39 L405.30 208.39 L406.05 208.39 L406.80 208.38 L407.55 208.38 L408.30 208.38 L409.05 208.38 L409.80 208.37 L410.55 208.37 L411.30 208.37 L412.05 208.37 L412.80 208.36 L413.55 208.36 L414.30 208.36 L415.05 208.36 L415.80 208.35 L416.55 208.35 L417.30 208.35 L418.05 208.35 L418.80 208.34 L419.55 208.34 L420.30 208.34 L421.05 208.34 L421.80 208.33 L422.55 208.33 L423.30 208.33 L424.05 208.33 L424.80 208.32 L425.55 208.32 L426.30 208.32 L427.05 208.32 L427.80 208.31 L428.55 208.31 L429.30 208.31 L430.05 208.31 L430.80 208.30 L431.55 208.30 L432.30 208.30 L433.05 208.30 L433.80 208.29 L434.55 208.29 L435.30 208.29 L436.05 208.29 L436.80 208.28 L437.55 208.28 L438.30 208.28 L439.05 208.28 L439.80 208.27 L440.55 208.27 L441.30 208.27 L442.05 208.26 L442.80 208.26 L443.55 208.26 L444.30 208.26 L445.05 208.25 L445.80 208.25 L446.55 208.25 L447.30 208.25 L448.05 208.24 L448.80 208.24 L449.55 208.24 L450.30 208.24 L451.05 208.23 L451.80 208.23 L452.55 208.23 L453.30 208.23 L454.05 208.22 L454.80 208.22 L455.55 208.22 L456.30 208.22 L457.05 208.21 L457.80 208.21 L458.55 208.21 L459.30 208.21 L460.05 208.20 L460.80 208.20 L461.55 208.20 L462.30 208.20 L463.05 208.19 L463.80 208.19 L464.55 208.19 L465.30 208.19 L466.05 208.18 L466.80 208.18 L467.55 208.18 L468.30 208.18 L469.05 208.17 L469.80 208.17 L470.55 208.17 L471.30 208.17 L472.05 208.16 L472.80 208.16 L473.55 208.16 L474.30 208.16 L475.05 208.15 L475.80 208.15 L476.55 208.15 L477.30 208.15 L478.05 208.14 L478.80 208.14 L479.55 208.14 L480.30 208.13 L481.05 208.13 L481.80 208.13 L482.55 208.13 L483.30 208.12 L484.05 208.12 L484.80 208.12 L485.55 208.12 L486.30 208.11 L487.05 208.11 L487.80 208.11 L488.55 208.11 L489.30 208.10 L490.05 208.10 L490.80 208.10 L491.55 208.10 L492.30 208.09 L493.05 208.09 L493.80 208.09 L494.55 208.09 L495.30 208.08 L496.05 208.08 L496.80 208.08 L497.55 208.08 L498.30 208.07 L499.05 208.07 L499.80 208.07 L500.55 208.07 L501.30 208.06 L502.05 208.06 L502.80 208.06 L503.55 208.06 L504.30 208.05 L505.05 208.05 L505.80 208.05 L506.55 208.05 L507.30 208.04 L508.05 208.04 L508.80 208.03 L509.55 208.03 L510.30 208.03 L511.05 208.03 L511.80 208.02 L512.55 208.02 L513.30 208.02 L514.05 208.02 L514.80 208.03 L515.55 208.03 L516.30 208.03 L517.05 208.03 L517.80 208.02 L518.55 208.02 L519.30 208.01 L520.05 208.00 L520.80 207.98 L521.55 207.95 L522.30 207.91 L523.05 207.86 L523.79 207.81 L524.54 207.77 L525.29 207.72 L526.04 207.68 L526.79 207.64 L527.54 207.60 L528.29 207.56 L529.04 207.52 L529.79 207.48 L530.53 207.44 L531.28 207.40 L532.03 207.36 L532.78 207.32 L533.53 207.28 L534.28 207.24 L535.03 207.20 L535.78 207.16 L536.53 207.12 L537.28 207.08 L538.02 207.05 L538.77 207.01 L539.52 206.98 L540.27 206.94 L541.02 206.90 L541.77 206.86 L542.52 206.81 L543.26 206.75 L544.01 206.67 L544.76 206.59 L545.51 206.50 L546.25 206.40 L547.00 206.29 L547.74 206.17 L548.48 206.04 L549.22 205.90 L549.96 205.76 L550.70 205.60 L551.44 205.44 L552.17 205.27 L552.90 205.09 L553.62 204.91 L554.34 204.71 L555.06 204.51 L555.77 204.30 L556.48 204.07 L557.18 203.82 L557.89 203.55 L558.58 203.28 L559.28 203.00 L559.98 202.72 L560.67 202.43 L561.37 202.15 L562.07 201.86 L562.77 201.59 L563.47 201.32 L564.18 201.07 L564.89 200.83 L565.61 200.61 L566.34 200.38 L567.06 200.18 L567.79 200.00 L568.53 199.86 L569.26 199.77 L570.00 199.72 L570.75 199.67 L571.50 199.64 L572.25 199.62 L573.02 199.59 L573.80 199.56 L574.59 199.54 L575.35 199.55 L576.07 199.62 L576.71 199.77 L577.30 200.13 L577.83 200.67 L578.33 201.31 L578.82 201.97 L579.30 202.61 L579.78 203.31 L580.26 203.98 L580.77 204.53 L581.33 204.86 L581.97 204.94 L582.69 204.89 L583.46 204.79 L584.25 204.68 L585.03 204.60 L585.78 204.64 L586.51 204.79 L587.23 205.04 L587.94 205.32 L588.65 205.62 L589.36 205.88 L590.07 206.06 L590.80 206.16 L591.54 206.21 L592.28 206.24 L593.03 206.24 L593.79 206.22 L594.54 206.19 L595.30 206.16 L596.06 206.13 L596.82 206.10 L597.57 206.08 L598.32 206.07 L599.07 206.06 L599.82 206.07 L600.57 206.07 L601.32 206.08 L602.07 206.09 L602.82 206.10 L603.57 206.10 L604.31 206.11 L605.06 206.11 L605.81 206.11 L606.56 206.11 L607.31 206.10 L608.06 206.10 L608.82 206.10 L609.57 206.10 L610.32 206.10 L611.07 206.10 L611.82 206.11 L612.57 206.11 L613.32 206.11 L614.07 206.11 L614.82 206.11 L615.57 206.10 L616.32 206.10 L617.07 206.08 L617.82 206.04 L618.57 206.00 L619.32 205.94 L620.07 205.87 L620.82 205.79 L621.56 205.70 L622.31 205.60 L623.05 205.48 L623.78 205.36 L624.52 205.22 L625.25 205.05 L625.98 204.86 L626.71 204.63 L627.43 204.38 L628.14 204.10 L628.83 203.80 L629.51 203.48 L630.16 203.13 L630.79 202.76 L631.40 202.35 L631.98 201.89 L632.56 201.40 L633.11 200.89 L633.66 200.36 L634.20 199.82 L634.73 199.28 L635.27 198.74 L635.79 198.20 L636.31 197.65 L636.82 197.09 L637.34 196.54 L637.85 195.98 L638.37 195.44 L638.90 194.91 L639.44 194.40 L640.00 193.91 L640.59 193.46 L641.19 193.01 L641.82 192.58 L642.46 192.17 L643.12 191.79 L643.80 191.44 L644.49 191.14 L645.19 190.89 L645.90 190.70 L646.64 190.54 L647.39 190.43 L648.14 190.40 L648.88 190.47 L649.63 190.61 L650.36 190.81 L651.08 191.06 L651.77 191.33 L652.44 191.65 L653.08 192.01 L653.71 192.43 L654.32 192.87 L654.92 193.34 L655.52 193.82 L656.10 194.30 L656.68 194.79 L657.26 195.27 L657.83 195.75 L658.39 196.25 L658.96 196.74 L659.52 197.24 L660.08 197.74 L660.65 198.23 L661.22 198.72 L661.79 199.19 L662.38 199.66 L662.96 200.13 L663.56 200.59 L664.15 201.04 L664.75 201.50 L665.35 201.94 L665.96 202.39 L666.57 202.83 L667.17 203.27 L667.78 203.72 L668.40 204.16 L669.02 204.58 L669.65 204.98 L670.30 205.35 L670.97 205.68 L671.66 205.98 L672.36 206.26 L673.08 206.51 L673.80 206.70 L674.54 206.84 L675.27 206.95 L676.02 207.05 L676.76 207.13 L677.51 207.20 L678.27 207.26 L679.02 207.31 L679.78 207.34 L680.53 207.37 L681.29 207.39 L682.04 207.40 L682.79 207.41 L683.54 207.41 L684.28 207.41 L685.00 207.40"/>
<path class="c" stroke="#d39a12" stroke-width="1.08" d="M404.60 199.20 L405.20 202.60 L405.90 204.80 L406.60 206.88 L407.70 205.40 L408.80 206.27 L409.90 203.80 L411.00 206.06 L412.10 205.95 L413.20 206.99 L414.30 206.48 L415.40 208.08 L416.50 205.41 L417.60 205.56 L418.70 205.91 L419.80 206.85 L420.90 206.77 L422.00 205.29 L423.10 205.45 L424.20 206.95 L425.30 206.67 L426.40 207.36 L427.50 204.92 L428.60 207.29 L429.70 206.19 L430.80 206.09 L431.90 207.70 L433.00 206.98 L434.10 206.55 L435.20 207.09 L436.30 206.01 L437.40 206.39 L438.50 206.09 L439.60 206.40 L440.70 206.19 L441.80 206.44 L442.90 206.30 L444.00 206.69 L445.10 206.69 L446.20 206.89 L447.30 208.84 L448.40 205.44 L449.50 207.73 L450.60 206.52 L451.70 205.74 L452.80 206.60 L453.90 206.83 L455.00 207.62 L456.10 205.93 L457.20 206.97 L458.30 206.90 L459.40 205.48 L460.50 205.89 L461.60 208.64 L462.70 207.43 L463.80 207.75 L464.90 207.33 L466.00 207.23 L467.10 207.03 L468.20 207.91 L469.30 206.28 L470.40 206.86 L471.50 207.29 L472.60 205.74 L473.70 208.06 L474.80 206.40 L475.90 206.99 L477.00 208.79 L478.10 206.41 L479.20 206.67 L480.30 208.35 L481.40 206.24 L482.50 206.77 L483.60 208.67 L484.70 206.14 L485.80 207.61 L486.90 207.43 L488.00 208.22 L489.10 206.47 L490.20 208.78 L491.30 206.62 L492.40 206.60 L493.50 205.65 L494.60 207.73 L495.70 205.73 L496.80 207.90 L497.90 208.68 L499.00 206.36 L500.10 206.66 L501.20 206.84 L502.30 207.89 L503.40 206.54 L504.50 207.13 L505.60 206.82 L506.70 207.05 L507.80 208.29 L508.90 206.49 L510.00 207.32 L511.10 207.49 L512.20 207.97 L513.30 207.55 L514.40 208.18 L515.50 207.65 L516.00 206.55 L516.68 206.50 L517.36 206.44 L518.03 206.38 L518.71 206.41 L519.38 206.45 L520.05 206.48 L520.72 206.14 L521.39 205.63 L522.05 205.13 L522.72 204.96 L523.38 205.04 L524.04 205.11 L524.70 204.90 L525.36 204.33 L526.01 203.76 L526.66 203.32 L527.31 203.24 L527.95 203.15 L528.59 203.05 L529.23 202.95 L529.86 202.83 L530.50 202.71 L531.13 202.27 L531.75 201.82 L532.37 201.36 L532.99 200.75 L533.60 200.10 L534.20 199.45 L534.79 199.29 L535.38 199.31 L535.97 199.32 L536.55 198.97 L537.12 198.35 L537.69 197.71 L538.26 197.12 L538.82 196.58 L539.37 196.04 L539.91 195.52 L540.45 195.06 L540.98 194.60 L541.50 194.12 L542.01 193.54 L542.52 192.95 L543.03 192.36 L543.53 191.38 L544.02 190.40 L544.51 189.41 L544.99 189.39 L545.47 189.53 L545.94 189.66 L546.40 189.21 L546.86 188.52 L547.31 187.84 L547.76 187.34 L548.20 186.97 L548.63 186.60 L549.06 186.38 L549.48 186.35 L549.89 186.31 L550.30 185.99 L550.69 184.93 L551.08 183.77 L551.46 182.88 L551.84 182.20 L552.21 181.53 L552.59 180.85 L552.96 180.14 L553.32 179.42 L553.68 178.70 L554.03 177.96 L554.36 177.21 L554.68 176.46 L554.99 176.12 L555.28 175.94 L555.55 175.76 L555.81 175.24 L556.04 174.46 L556.26 173.66 L556.47 172.98 L556.67 172.45 L556.88 171.91 L557.09 171.23 L557.31 170.19 L557.53 169.14 L557.75 168.15 L557.97 167.52 L558.18 166.90 L558.40 166.27 L558.62 166.16 L558.84 166.04 L559.05 165.92 L559.26 164.94 L559.48 163.82 L559.69 162.70 L559.92 161.87 L560.15 161.15 L560.40 160.43 L560.66 159.74 L560.93 159.07 L561.20 158.39 L561.48 157.89 L561.76 157.60 L562.04 157.32 L562.32 156.83 L562.59 155.84 L562.85 154.85 L563.10 153.90 L563.34 153.23 L563.58 152.56 L563.81 151.89 L564.03 151.59 L564.26 151.29 L564.47 150.99 L564.68 150.17 L564.87 149.26 L565.06 148.36 L565.13 147.87 L565.30 147.19 L565.47 146.51 L565.63 145.83 L565.80 145.15 L565.97 144.46 L566.11 143.77 L566.24 143.08 L566.37 142.39 L566.52 141.70 L566.76 141.01 L567.00 140.32 L567.21 139.63 L567.21 138.94 L567.21 138.25 L567.21 137.56 L567.45 136.87 L567.69 136.18 L567.94 135.50 L568.06 134.81 L568.16 134.13 L568.26 133.44 L568.32 132.76 L568.37 132.07 L568.43 131.39 L568.53 130.71 L568.68 130.02 L568.83 129.34 L568.98 128.66 L569.11 127.97 L569.25 127.29 L569.44 126.61 L569.74 125.93 L570.03 125.25 L570.30 124.57 L570.38 123.89 L570.47 123.21 L570.55 122.53 L570.69 121.85 L570.84 121.16 L571.06 120.33 L571.23 119.58 L571.41 118.83 L571.58 118.08 L571.76 117.69 L571.95 117.46 L572.13 117.22 L572.33 116.59 L572.52 115.66 L572.73 114.74 L572.93 113.91 L573.14 113.23 L573.36 112.54 L573.57 111.83 L573.80 111.05 L574.03 110.28 L574.28 109.55 L574.54 109.10 L574.81 108.67 L575.10 108.24 L575.41 107.90 L575.77 107.46 L576.16 107.00 L576.57 105.75 L576.98 104.57 L577.37 103.33 L577.76 103.20 L578.17 103.72 L578.59 104.68 L578.98 105.52 L579.32 106.39 L579.57 107.20 L579.63 108.14 L579.78 108.80 L579.91 109.48 L580.07 110.16 L580.30 110.86 L580.52 111.56 L580.71 112.27 L580.77 112.98 L580.82 113.69 L580.87 114.39 L580.87 115.09 L580.86 115.78 L580.86 116.48 L581.01 117.17 L581.18 117.87 L581.36 118.57 L581.46 119.26 L581.54 119.96 L581.62 120.66 L581.56 121.35 L581.41 122.05 L581.26 122.75 L581.27 123.45 L581.50 124.14 L581.72 124.84 L581.88 125.54 L581.87 126.23 L581.87 126.93 L581.87 127.63 L581.92 128.33 L581.97 129.02 L582.02 129.72 L582.16 130.42 L582.30 131.12 L582.44 131.82 L582.40 132.51 L582.34 133.21 L582.27 133.91 L582.40 134.61 L582.61 135.31 L582.81 136.00 L582.92 136.70 L582.95 137.40 L582.99 138.10 L582.97 138.80 L582.87 139.50 L582.78 140.20 L582.75 140.89 L582.88 141.59 L583.01 142.29 L583.11 142.99 L583.07 143.69 L583.03 144.39 L582.99 145.09 L583.18 145.79 L583.37 146.49 L583.57 147.18 L583.60 147.88 L583.62 148.58 L583.63 149.28 L583.53 149.98 L583.37 150.68 L583.21 151.37 L583.23 152.07 L583.38 152.77 L583.53 153.47 L583.66 154.17 L583.74 154.86 L583.83 155.56 L583.92 156.26 L584.02 156.96 L584.12 157.66 L584.22 158.35 L584.29 159.05 L584.37 159.75 L584.44 160.45 L584.44 161.15 L584.44 161.85 L584.44 162.55 L584.59 163.25 L584.77 163.95 L584.95 164.65 L584.96 165.35 L584.89 166.05 L584.84 166.74 L584.84 167.43 L584.90 168.12 L584.97 168.87 L585.16 169.71 L585.49 170.59 L585.84 171.48 L586.13 172.35 L585.91 173.91 L586.14 174.41 L586.40 174.82 L586.68 175.55 L587.01 175.91 L587.53 175.95 L588.30 175.28 L588.71 174.93 L589.02 174.82 L589.28 175.16 L589.50 175.69 L589.63 176.51 L589.83 177.31 L590.04 178.17 L590.25 179.05 L590.44 179.93 L590.62 180.78 L590.75 181.73 L590.98 182.48 L591.22 183.28 L591.45 184.08 L591.70 184.85 L591.96 185.56 L592.25 186.24 L592.57 186.83 L592.94 187.23 L593.36 187.35 L593.82 187.44 L594.32 188.29 L594.83 189.09 L595.37 189.82 L595.95 190.41 L596.59 190.96 L597.25 191.40 L597.91 191.07 L598.59 190.34 L599.28 189.53 L599.98 189.15 L600.64 189.10 L601.29 189.01 L601.93 188.93 L602.53 188.90 L603.06 188.82 L603.56 188.49 L604.02 187.61 L604.45 186.70 L604.86 185.83 L605.25 185.32 L605.61 184.69 L605.96 184.05 L606.30 183.41 L606.62 182.76 L606.93 182.11 L607.24 181.58 L607.53 181.07 L607.81 180.55 L608.09 180.05 L608.35 179.55 L608.62 179.05 L608.88 178.41 L609.14 177.68 L609.40 176.94 L609.65 176.24 L609.91 175.60 L610.15 174.96 L610.39 174.30 L610.63 173.56 L610.87 172.83 L611.10 172.13 L611.33 171.66 L611.55 171.18 L611.78 170.71 L612.00 169.49 L612.22 168.28 L612.44 167.06 L612.66 166.87 L612.88 166.85 L613.11 166.83 L613.33 166.17 L613.56 165.25 L613.78 164.33 L613.98 163.71 L614.16 163.31 L614.66 162.18 L614.82 161.50 L614.83 160.82 L614.84 160.13 L614.89 159.44 L615.08 158.75 L615.27 158.07 L615.48 157.38 L615.75 156.69 L616.02 156.00 L616.30 155.32 L616.21 154.64 L616.09 154.08 L616.28 152.86 L616.49 152.23 L616.70 151.71 L616.92 151.18 L617.14 150.59 L617.34 149.98 L617.53 149.36 L617.73 148.59 L617.83 147.90 L617.91 147.22 L618.01 146.53 L618.12 145.83 L618.23 145.14 L618.34 144.44 L618.46 143.74 L618.58 143.04 L618.70 142.34 L618.76 141.65 L618.82 140.95 L618.89 140.26 L618.80 139.56 L618.72 138.87 L618.64 138.17 L618.80 137.48 L619.01 136.78 L619.22 136.09 L619.32 135.39 L619.37 134.70 L619.42 134.00 L619.47 133.30 L619.51 132.61 L619.56 131.91 L619.65 131.22 L619.81 130.52 L619.97 129.83 L620.08 129.13 L620.10 128.44 L620.11 127.74 L620.13 127.05 L620.19 126.35 L620.26 125.66 L620.32 124.96 L620.36 124.27 L620.41 123.57 L620.45 122.88 L620.61 122.18 L620.79 121.49 L620.97 120.79 L621.11 120.10 L621.24 119.40 L621.36 118.71 L621.37 118.01 L621.30 117.32 L621.22 116.62 L621.28 115.93 L621.51 115.23 L621.75 114.54 L621.92 113.84 L621.92 113.14 L621.93 112.45 L621.93 111.75 L621.89 111.06 L621.86 110.36 L621.82 109.67 L621.97 108.97 L622.12 108.27 L622.27 107.58 L622.36 106.88 L622.44 106.19 L622.52 105.49 L622.67 104.80 L622.84 104.10 L623.02 103.40 L623.15 102.71 L623.25 102.01 L623.34 101.32 L623.42 100.62 L623.46 99.93 L623.51 99.23 L623.57 98.54 L623.67 97.84 L623.78 97.14 L623.87 96.45 L623.86 95.75 L623.85 95.06 L623.85 94.36 L624.07 93.67 L624.28 92.97 L624.50 92.27 L624.44 91.58 L624.32 90.88 L624.21 90.19 L624.32 89.49 L624.51 88.80 L624.70 88.10 L624.85 87.40 L624.95 86.71 L625.06 86.01 L625.15 85.32 L625.21 84.62 L625.28 83.93 L625.36 83.23 L625.46 82.53 L625.56 81.84 L625.65 81.14 L625.66 80.45 L625.68 79.75 L625.70 79.06 L625.76 78.36 L625.82 77.66 L625.89 76.97 L625.97 76.27 L626.06 75.58 L626.15 74.88 L626.29 74.18 L626.43 73.49 L626.58 72.79 L626.58 72.10 L626.46 71.40 L626.35 70.70 L626.35 70.01 L626.51 69.31 L626.66 68.62 L626.82 67.92 L626.97 67.23 L627.12 66.53 L627.25 65.83 L627.23 65.14 L627.20 64.44 L627.18 63.75 L627.39 63.05 L627.59 62.35 L627.80 61.66 L627.82 60.96 L627.82 60.27 L627.81 59.57 L627.96 58.87 L628.17 58.18 L628.38 57.48 L628.43 56.79 L628.37 56.09 L628.31 55.40 L628.28 54.70 L628.29 54.00 L628.30 53.31 L628.34 52.61 L628.48 51.91 L628.63 51.22 L628.76 50.52 L628.86 49.82 L628.97 49.13 L629.08 48.43 L629.19 47.74 L629.31 47.05 L629.44 46.36 L629.55 45.67 L629.67 44.97 L629.78 44.28 L629.82 43.59 L629.82 42.90 L629.83 42.22 L629.95 41.53 L630.15 40.84 L630.36 40.16 L630.52 39.47 L630.61 38.79 L630.70 38.11 L630.88 37.43 L631.25 36.74 L631.62 36.05 L631.96 35.37 L631.77 35.48 L631.96 34.76 L632.16 34.05 L632.37 33.14 L632.60 32.24 L632.85 31.36 L633.13 30.66 L633.51 29.89 L633.89 29.67 L634.28 30.39 L634.62 31.33 L634.89 32.15 L635.13 32.52 L635.36 32.53 L635.58 32.56 L635.78 33.09 L635.97 34.27 L636.15 35.45 L636.33 36.53 L636.62 37.06 L636.85 37.74 L637.05 38.42 L637.10 39.10 L637.15 39.78 L637.20 40.46 L637.47 41.15 L637.74 41.83 L638.00 42.52 L638.05 43.20 L638.07 43.89 L638.08 44.58 L638.15 45.27 L638.25 45.96 L638.34 46.65 L638.46 47.35 L638.60 48.04 L638.74 48.73 L638.84 49.43 L638.90 50.12 L638.95 50.82 L639.02 51.52 L639.17 52.22 L639.31 52.92 L639.44 53.61 L639.45 54.31 L639.47 55.01 L639.49 55.71 L639.58 56.40 L639.67 57.10 L639.76 57.80 L639.72 58.49 L639.66 59.19 L639.60 59.89 L639.72 60.59 L639.91 61.28 L640.10 61.98 L640.23 62.68 L640.31 63.37 L640.39 64.07 L640.44 64.77 L640.43 65.47 L640.42 66.16 L640.45 66.86 L640.54 67.56 L640.63 68.25 L640.73 68.95 L640.87 69.65 L641.00 70.35 L641.14 71.04 L640.93 71.74 L640.72 72.44 L640.51 73.13 L640.53 73.83 L640.60 74.53 L640.66 75.23 L640.84 75.92 L641.06 76.62 L641.28 77.32 L641.39 78.01 L641.44 78.71 L641.49 79.41 L641.52 80.11 L641.55 80.80 L641.58 81.50 L641.64 82.20 L641.80 82.89 L641.97 83.59 L642.14 84.28 L642.34 84.98 L642.55 85.68 L642.76 86.37 L642.78 87.07 L642.80 87.76 L642.81 88.46 L642.77 89.16 L642.71 89.85 L642.65 90.55 L642.68 91.24 L642.73 91.94 L642.79 92.63 L642.96 93.33 L643.22 94.03 L643.47 94.72 L643.61 95.42 L643.59 96.11 L643.56 96.81 L643.57 97.51 L643.63 98.20 L643.69 98.90 L643.76 99.59 L643.92 100.29 L644.07 100.99 L644.23 101.68 L644.30 102.38 L644.37 103.07 L644.43 103.77 L644.47 104.46 L644.49 105.16 L644.52 105.86 L644.57 106.55 L644.63 107.25 L644.69 107.94 L644.73 108.64 L644.77 109.34 L644.80 110.03 L644.88 110.73 L645.02 111.42 L645.16 112.12 L645.24 112.82 L645.18 113.51 L645.13 114.21 L645.10 114.90 L645.21 115.60 L645.34 116.29 L645.46 116.99 L645.64 117.69 L645.82 118.38 L646.00 119.08 L646.04 119.77 L646.07 120.47 L646.10 121.16 L646.14 121.86 L646.20 122.55 L646.25 123.25 L646.29 123.94 L646.32 124.64 L646.35 125.33 L646.43 126.03 L646.59 126.73 L646.74 127.42 L646.88 128.12 L646.98 128.81 L647.07 129.51 L647.17 130.20 L647.29 130.90 L647.42 131.59 L647.54 132.29 L647.43 132.98 L647.31 133.68 L647.20 134.37 L647.41 135.07 L647.67 135.76 L647.93 136.46 L648.05 137.16 L648.12 137.85 L648.20 138.55 L648.21 139.24 L648.19 139.94 L648.17 140.63 L648.22 141.33 L648.36 142.02 L648.50 142.72 L648.62 143.42 L648.69 144.11 L648.76 144.81 L648.83 145.50 L648.84 146.20 L648.86 146.89 L648.88 147.59 L649.11 148.28 L649.35 148.97 L649.60 149.66 L649.67 150.35 L649.72 151.04 L649.76 151.72 L649.87 152.41 L650.01 153.10 L650.14 153.79 L650.31 154.48 L650.50 155.17 L650.70 155.86 L650.85 156.54 L650.95 157.23 L651.05 157.92 L651.14 158.61 L651.21 159.30 L651.29 159.99 L651.37 160.68 L651.46 161.37 L651.55 162.05 L651.64 162.74 L651.87 163.42 L652.11 164.11 L652.35 164.79 L652.46 165.47 L652.55 166.16 L652.64 166.84 L652.84 167.52 L653.15 168.06 L653.32 168.92 L653.50 169.67 L653.68 170.33 L653.86 170.99 L654.05 171.57 L654.24 172.05 L654.43 172.53 L654.63 173.11 L654.83 173.94 L655.04 174.77 L655.25 175.58 L655.48 176.24 L655.71 176.90 L655.95 177.55 L656.20 178.12 L656.46 178.70 L656.71 179.27 L656.97 180.08 L657.24 180.93 L657.50 181.78 L657.77 182.35 L658.04 182.81 L658.30 183.27 L658.57 183.73 L658.83 184.21 L659.10 184.68 L659.36 185.32 L659.64 186.16 L659.92 187.00 L660.20 187.83 L660.50 188.65 L660.80 189.46 L661.12 190.17 L661.45 190.33 L661.79 190.47 L662.15 190.60 L662.53 190.69 L662.94 191.20 L663.36 191.70 L663.79 192.13 L664.24 192.55 L664.70 192.96 L665.17 193.93 L665.64 195.11 L666.12 196.29 L666.60 197.01 L667.09 197.39 L667.59 197.75 L668.11 198.26 L668.64 198.96 L669.17 199.66 L669.71 200.18 L670.26 200.26 L670.79 200.35 L671.32 200.53 L671.84 201.25 L672.33 202.00 L672.81 202.79 L673.28 203.30 L673.75 203.80 L674.23 204.27 L674.73 204.98 L675.26 205.66 L675.83 206.27 L676.45 206.62 L677.10 206.87 L677.78 207.09 L678.47 206.98 L679.16 206.61 L679.84 206.21 L680.52 206.13 L681.21 206.46 L681.90 206.78 L682.60 207.06 L683.30 207.25 L684.00 207.43 L684.72 207.55 L685.00 207.43"/>
</g>
<path fill="none" stroke="#444" stroke-width="1.1" d="M384.98 5.45H685.00"/>
<path fill="none" stroke="#333" stroke-width="1" d="M684.50 4.90V234.75"/>
<path fill="none" stroke="#707070" stroke-width="1.5" d="M380.68 234.00H685.00"/>
<path fill="none" stroke="#333" stroke-width="1.15" d="M385.55 4.90V234.75"/>
<path fill="none" stroke="#3a3a3a" stroke-width="1" d="M385.50 233.80v4.60M452.00 233.80v2.40M518.50 233.80v4.60M585.00 233.80v2.40M651.50 233.80v4.60M385.50 233.80h-4.60M385.50 221.12h-2.40M385.50 208.43h-4.60M385.50 195.75h-2.40M385.50 183.07h-4.60M385.50 170.38h-2.40M385.50 157.70h-4.60M385.50 145.02h-2.40M385.50 132.33h-4.60M385.50 119.65h-2.40M385.50 106.97h-4.60M385.50 94.28h-2.40M385.50 81.60h-4.60M385.50 68.92h-2.40M385.50 56.23h-4.60M385.50 43.55h-2.40M385.50 30.87h-4.60M385.50 18.18h-2.40M385.50 5.50h-4.60"/>
<text class="tk" transform="translate(385.50 250.00) scale(1.05 1)" text-anchor="middle">0</text>
<text class="tk" transform="translate(518.50 250.00) scale(1.05 1)" text-anchor="middle">200</text>
<text class="tk" transform="translate(651.50 250.00) scale(1.05 1)" text-anchor="middle">400</text>
<text class="tk" x="377.40" y="237.00" text-anchor="end">-2</text>
<text class="tk" x="377.40" y="211.63" text-anchor="end">0</text>
<text class="tk" x="377.40" y="186.27" text-anchor="end">2</text>
<text class="tk" x="377.40" y="160.90" text-anchor="end">4</text>
<text class="tk" x="377.40" y="135.53" text-anchor="end">6</text>
<text class="tk" x="377.40" y="110.17" text-anchor="end">8</text>
<text class="tk" x="377.40" y="84.80" text-anchor="end">10</text>
<text class="tk" x="377.40" y="59.43" text-anchor="end">12</text>
<text class="tk" x="377.40" y="34.07" text-anchor="end">14</text>
<text class="tk" x="377.40" y="8.70" text-anchor="end">16</text>
<text x="533.3" y="269.6" text-anchor="middle" font-size="13.85" font-weight="bold">Temperature (<tspan font-size="9" dy="-6">o</tspan><tspan dy="6">C)</tspan></text>
<text transform="translate(354.3 119.4) rotate(-90) scale(0.887 1)" text-anchor="middle" font-size="14.9" font-weight="bold">Deriv. Mass (%/<tspan font-size="9.8" dy="-6.2">o</tspan><tspan dy="6.2">C)</tspan></text>
<text x="393.6" y="17.5" font-size="15" font-weight="bold">b</text>
<path class="c" stroke="#262626" stroke-width="1.0" d="M394.00 67.30H417.50"/>
<text class="lg" transform="translate(420.30 70.85) scale(1 1)" font-size="10.05">PUF/CT0%</text>
<path class="c" stroke="#ff0808" stroke-width="1.0" d="M394.00 79.35H417.50"/>
<text class="lg" transform="translate(420.30 82.90) scale(1 1)" font-size="10.05">PUF/CT1%</text>
<path class="c" stroke="#1010ff" stroke-width="1.0" d="M394.00 91.40H417.50"/>
<text class="lg" transform="translate(420.30 94.95) scale(1 1)" font-size="10.05">PUF/CT2%</text>
<path class="c" stroke="#14ee14" stroke-width="1.0" d="M394.00 103.45H417.50"/>
<text class="lg" transform="translate(420.30 107.00) scale(1 1)" font-size="10.05">PUF/CT3%</text>
<path class="c" stroke="#e566ff" stroke-width="1.0" d="M394.00 115.50H417.50"/>
<text class="lg" transform="translate(420.30 119.05) scale(1 1)" font-size="10.05">PUF/CT4%</text>
<path class="c" stroke="#d39a12" stroke-width="1.0" d="M394.00 127.55H417.50"/>
<text class="lg" transform="translate(420.30 131.10) scale(1 1)" font-size="10.05">PUF/CT5%</text>
</g>
</svg></body></html>
